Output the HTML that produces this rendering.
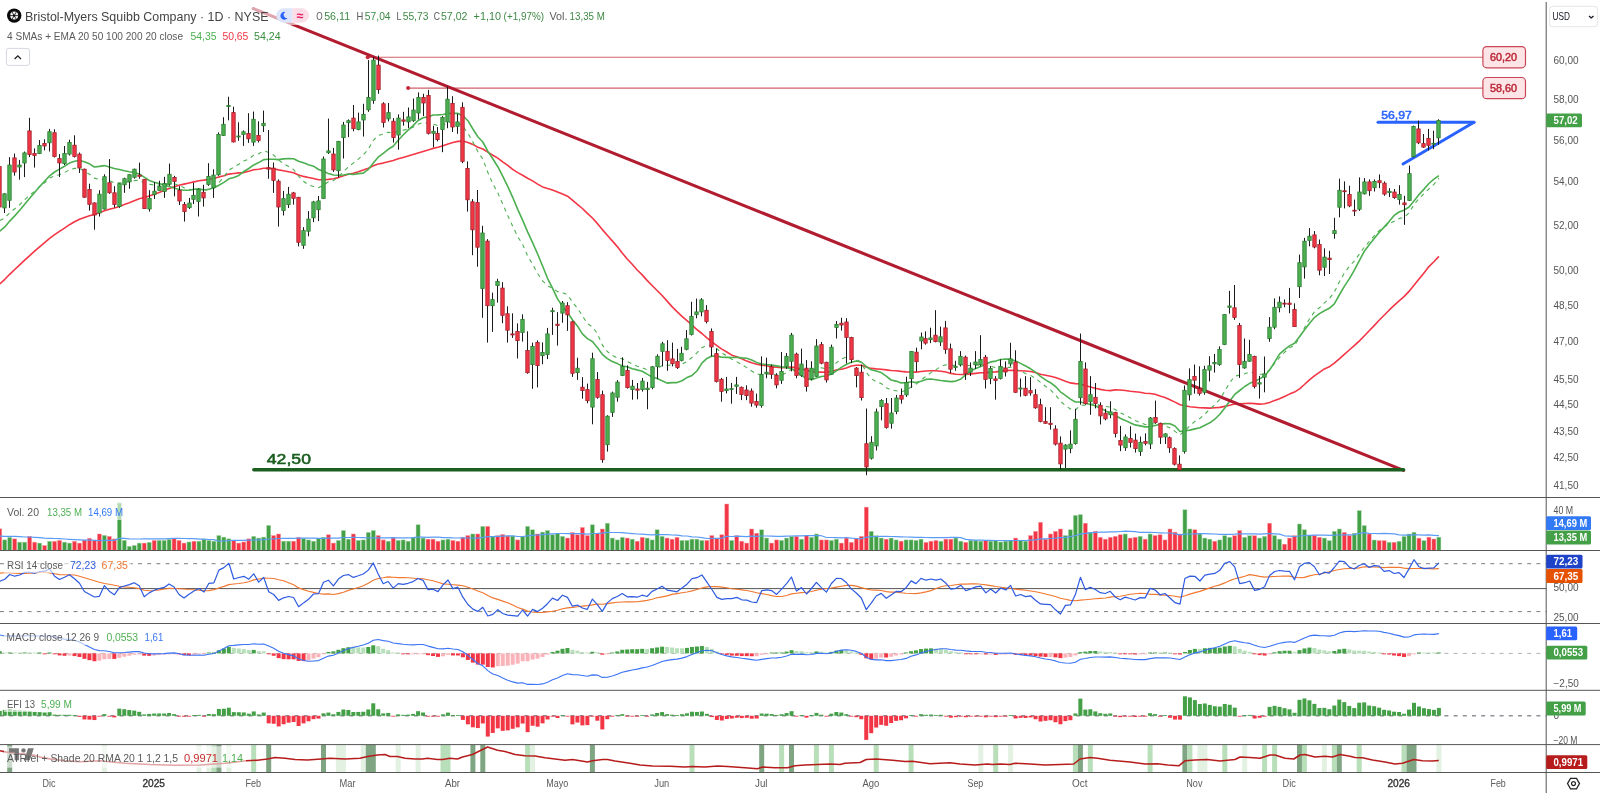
<!DOCTYPE html><html><head><meta charset="utf-8"><title>BMY chart</title><style>html,body{margin:0;padding:0;background:#fff}svg{display:block;will-change:transform;transform:translateZ(0)}</style></head><body><svg width="1600" height="793" viewBox="0 0 1600 793" font-family="'Liberation Sans', sans-serif">
<rect width="1600" height="793" fill="#fff"/>
<g fill="#43a047" stroke="#a5d6a7" stroke-width="0.5"><rect x="2.77" y="539.90" width="4" height="10.50"/><rect x="7.75" y="537.28" width="4" height="13.12"/><rect x="17.71" y="542.15" width="4" height="8.25"/><rect x="22.69" y="542.15" width="4" height="8.25"/><rect x="37.63" y="543.09" width="4" height="7.31"/><rect x="47.59" y="541.31" width="4" height="9.09"/><rect x="62.52" y="542.15" width="4" height="8.25"/><rect x="67.50" y="543.09" width="4" height="7.31"/><rect x="102.36" y="535.40" width="4" height="15.00"/><rect x="117.30" y="503.06" width="4" height="47.34"/><rect x="122.28" y="540.37" width="4" height="10.03"/><rect x="127.26" y="546.37" width="4" height="4.03"/><rect x="132.24" y="545.43" width="4" height="4.97"/><rect x="137.22" y="543.09" width="4" height="7.31"/><rect x="147.18" y="542.28" width="4" height="8.12"/><rect x="157.14" y="540.40" width="4" height="10.00"/><rect x="162.12" y="540.40" width="4" height="10.00"/><rect x="167.10" y="539.46" width="4" height="10.94"/><rect x="187.01" y="541.96" width="4" height="8.44"/><rect x="196.97" y="541.18" width="4" height="9.22"/><rect x="201.95" y="539.15" width="4" height="11.25"/><rect x="206.93" y="540.40" width="4" height="10.00"/><rect x="211.91" y="541.18" width="4" height="9.22"/><rect x="216.89" y="535.56" width="4" height="14.84"/><rect x="221.87" y="537.12" width="4" height="13.28"/><rect x="226.85" y="538.84" width="4" height="11.56"/><rect x="251.75" y="536.34" width="4" height="14.06"/><rect x="256.73" y="538.06" width="4" height="12.34"/><rect x="261.71" y="537.12" width="4" height="13.28"/><rect x="266.69" y="525.40" width="4" height="25.00"/><rect x="281.63" y="541.18" width="4" height="9.22"/><rect x="286.61" y="541.18" width="4" height="9.22"/><rect x="301.55" y="538.37" width="4" height="12.03"/><rect x="306.53" y="539.93" width="4" height="10.47"/><rect x="311.50" y="541.18" width="4" height="9.22"/><rect x="316.48" y="538.37" width="4" height="12.03"/><rect x="321.46" y="537.28" width="4" height="13.12"/><rect x="336.40" y="540.40" width="4" height="10.00"/><rect x="341.38" y="530.56" width="4" height="19.84"/><rect x="346.36" y="539.15" width="4" height="11.25"/><rect x="356.32" y="540.40" width="4" height="10.00"/><rect x="361.30" y="539.93" width="4" height="10.47"/><rect x="366.28" y="532.43" width="4" height="17.97"/><rect x="371.26" y="530.56" width="4" height="19.84"/><rect x="386.20" y="541.18" width="4" height="9.22"/><rect x="396.16" y="540.40" width="4" height="10.00"/><rect x="401.14" y="539.93" width="4" height="10.47"/><rect x="406.12" y="541.18" width="4" height="9.22"/><rect x="411.10" y="537.59" width="4" height="12.81"/><rect x="416.08" y="524.78" width="4" height="25.62"/><rect x="421.06" y="538.06" width="4" height="12.34"/><rect x="440.97" y="539.93" width="4" height="10.47"/><rect x="445.95" y="539.15" width="4" height="11.25"/><rect x="470.85" y="533.99" width="4" height="16.41"/><rect x="480.81" y="526.34" width="4" height="24.06"/><rect x="490.77" y="536.81" width="4" height="13.59"/><rect x="510.69" y="536.02" width="4" height="14.38"/><rect x="520.65" y="536.81" width="4" height="13.59"/><rect x="525.63" y="526.34" width="4" height="24.06"/><rect x="530.61" y="529.78" width="4" height="20.62"/><rect x="540.57" y="532.12" width="4" height="18.28"/><rect x="545.55" y="530.56" width="4" height="19.84"/><rect x="550.53" y="534.78" width="4" height="15.62"/><rect x="555.51" y="533.68" width="4" height="16.72"/><rect x="560.48" y="536.34" width="4" height="14.06"/><rect x="590.36" y="524.78" width="4" height="25.62"/><rect x="605.30" y="523.21" width="4" height="27.19"/><rect x="610.28" y="538.06" width="4" height="12.34"/><rect x="615.26" y="539.93" width="4" height="10.47"/><rect x="620.24" y="537.28" width="4" height="13.12"/><rect x="630.20" y="539.15" width="4" height="11.25"/><rect x="645.14" y="538.06" width="4" height="12.34"/><rect x="650.12" y="539.93" width="4" height="10.47"/><rect x="655.10" y="529.78" width="4" height="20.62"/><rect x="660.08" y="536.34" width="4" height="14.06"/><rect x="680.00" y="540.40" width="4" height="10.00"/><rect x="684.97" y="540.40" width="4" height="10.00"/><rect x="689.95" y="539.15" width="4" height="11.25"/><rect x="694.93" y="539.15" width="4" height="11.25"/><rect x="699.91" y="540.40" width="4" height="10.00"/><rect x="729.79" y="540.40" width="4" height="10.00"/><rect x="759.67" y="529.78" width="4" height="20.62"/><rect x="764.65" y="538.06" width="4" height="12.34"/><rect x="779.59" y="540.40" width="4" height="10.00"/><rect x="784.57" y="538.06" width="4" height="12.34"/><rect x="789.55" y="536.34" width="4" height="14.06"/><rect x="799.51" y="539.15" width="4" height="11.25"/><rect x="809.46" y="537.28" width="4" height="13.12"/><rect x="814.44" y="533.99" width="4" height="16.41"/><rect x="829.38" y="540.40" width="4" height="10.00"/><rect x="834.36" y="539.15" width="4" height="11.25"/><rect x="869.22" y="531.34" width="4" height="19.06"/><rect x="874.20" y="535.71" width="4" height="14.69"/><rect x="879.18" y="538.06" width="4" height="12.34"/><rect x="889.14" y="538.06" width="4" height="12.34"/><rect x="894.12" y="539.93" width="4" height="10.47"/><rect x="904.08" y="539.93" width="4" height="10.47"/><rect x="909.06" y="539.93" width="4" height="10.47"/><rect x="914.04" y="540.40" width="4" height="10.00"/><rect x="919.02" y="539.15" width="4" height="11.25"/><rect x="938.93" y="541.18" width="4" height="9.22"/><rect x="953.87" y="538.06" width="4" height="12.34"/><rect x="958.85" y="541.18" width="4" height="9.22"/><rect x="968.81" y="540.40" width="4" height="10.00"/><rect x="973.79" y="540.40" width="4" height="10.00"/><rect x="978.77" y="541.18" width="4" height="9.22"/><rect x="988.73" y="541.18" width="4" height="9.22"/><rect x="993.71" y="540.40" width="4" height="10.00"/><rect x="998.69" y="541.96" width="4" height="8.44"/><rect x="1003.67" y="541.18" width="4" height="9.22"/><rect x="1008.65" y="540.40" width="4" height="10.00"/><rect x="1018.61" y="540.40" width="4" height="10.00"/><rect x="1023.59" y="541.18" width="4" height="9.22"/><rect x="1063.42" y="535.56" width="4" height="14.84"/><rect x="1068.40" y="529.78" width="4" height="20.62"/><rect x="1073.38" y="515.40" width="4" height="35.00"/><rect x="1078.36" y="514.62" width="4" height="35.78"/><rect x="1088.32" y="532.43" width="4" height="17.97"/><rect x="1123.18" y="533.99" width="4" height="16.41"/><rect x="1138.12" y="536.34" width="4" height="14.06"/><rect x="1148.08" y="533.99" width="4" height="16.41"/><rect x="1182.93" y="509.78" width="4" height="40.62"/><rect x="1187.91" y="528.99" width="4" height="21.41"/><rect x="1197.87" y="533.99" width="4" height="16.41"/><rect x="1202.85" y="538.06" width="4" height="12.34"/><rect x="1207.83" y="539.15" width="4" height="11.25"/><rect x="1217.79" y="539.93" width="4" height="10.47"/><rect x="1222.77" y="535.71" width="4" height="14.69"/><rect x="1227.75" y="537.28" width="4" height="13.12"/><rect x="1242.69" y="537.28" width="4" height="13.12"/><rect x="1247.67" y="535.71" width="4" height="14.69"/><rect x="1257.63" y="538.06" width="4" height="12.34"/><rect x="1262.61" y="536.34" width="4" height="14.06"/><rect x="1272.57" y="535.71" width="4" height="14.69"/><rect x="1277.55" y="539.15" width="4" height="11.25"/><rect x="1297.47" y="523.99" width="4" height="26.41"/><rect x="1302.45" y="529.78" width="4" height="20.62"/><rect x="1307.42" y="535.56" width="4" height="14.84"/><rect x="1322.36" y="538.06" width="4" height="12.34"/><rect x="1327.34" y="540.71" width="4" height="9.69"/><rect x="1332.32" y="531.34" width="4" height="19.06"/><rect x="1337.30" y="528.99" width="4" height="21.41"/><rect x="1352.24" y="533.21" width="4" height="17.19"/><rect x="1357.22" y="510.65" width="4" height="39.75"/><rect x="1362.20" y="525.65" width="4" height="24.75"/><rect x="1372.16" y="540.02" width="4" height="10.38"/><rect x="1387.10" y="542.28" width="4" height="8.12"/><rect x="1397.06" y="541.28" width="4" height="9.12"/><rect x="1402.04" y="536.52" width="4" height="13.88"/><rect x="1407.02" y="534.02" width="4" height="16.38"/><rect x="1412.00" y="532.28" width="4" height="18.12"/><rect x="1421.96" y="540.65" width="4" height="9.75"/><rect x="1436.89" y="537.15" width="4" height="13.25"/></g>
<g fill="#f23645" stroke="#f7a1a8" stroke-width="0.5"><rect x="-2.21" y="528.84" width="4" height="21.56"/><rect x="12.73" y="538.87" width="4" height="11.53"/><rect x="27.67" y="536.34" width="4" height="14.06"/><rect x="32.65" y="542.15" width="4" height="8.25"/><rect x="42.61" y="545.43" width="4" height="4.97"/><rect x="52.57" y="541.31" width="4" height="9.09"/><rect x="57.55" y="540.37" width="4" height="10.03"/><rect x="72.48" y="541.31" width="4" height="9.09"/><rect x="77.46" y="543.09" width="4" height="7.31"/><rect x="82.44" y="540.09" width="4" height="10.31"/><rect x="87.42" y="538.21" width="4" height="12.19"/><rect x="92.40" y="540.09" width="4" height="10.31"/><rect x="97.38" y="533.99" width="4" height="16.41"/><rect x="107.34" y="536.34" width="4" height="14.06"/><rect x="112.32" y="538.96" width="4" height="11.44"/><rect x="142.20" y="543.09" width="4" height="7.31"/><rect x="152.16" y="540.40" width="4" height="10.00"/><rect x="172.08" y="538.37" width="4" height="12.03"/><rect x="177.06" y="540.40" width="4" height="10.00"/><rect x="182.04" y="543.06" width="4" height="7.34"/><rect x="191.99" y="541.18" width="4" height="9.22"/><rect x="231.83" y="540.71" width="4" height="9.69"/><rect x="236.81" y="543.06" width="4" height="7.34"/><rect x="241.79" y="541.96" width="4" height="8.44"/><rect x="246.77" y="538.84" width="4" height="11.56"/><rect x="271.67" y="535.56" width="4" height="14.84"/><rect x="276.65" y="533.99" width="4" height="16.41"/><rect x="291.59" y="541.18" width="4" height="9.22"/><rect x="296.57" y="537.28" width="4" height="13.12"/><rect x="326.44" y="534.78" width="4" height="15.62"/><rect x="331.42" y="543.06" width="4" height="7.34"/><rect x="351.34" y="533.99" width="4" height="16.41"/><rect x="376.24" y="535.56" width="4" height="14.84"/><rect x="381.22" y="539.93" width="4" height="10.47"/><rect x="391.18" y="538.06" width="4" height="12.34"/><rect x="426.04" y="539.15" width="4" height="11.25"/><rect x="431.02" y="539.15" width="4" height="11.25"/><rect x="435.99" y="541.18" width="4" height="9.22"/><rect x="450.93" y="540.40" width="4" height="10.00"/><rect x="455.91" y="541.18" width="4" height="9.22"/><rect x="460.89" y="537.59" width="4" height="12.81"/><rect x="465.87" y="535.56" width="4" height="14.84"/><rect x="475.83" y="533.99" width="4" height="16.41"/><rect x="485.79" y="526.34" width="4" height="24.06"/><rect x="495.75" y="535.71" width="4" height="14.69"/><rect x="500.73" y="534.46" width="4" height="15.94"/><rect x="505.71" y="536.02" width="4" height="14.38"/><rect x="515.67" y="539.93" width="4" height="10.47"/><rect x="535.59" y="533.99" width="4" height="16.41"/><rect x="565.46" y="538.06" width="4" height="12.34"/><rect x="570.44" y="532.43" width="4" height="17.97"/><rect x="575.42" y="534.78" width="4" height="15.62"/><rect x="580.40" y="527.43" width="4" height="22.97"/><rect x="585.38" y="535.56" width="4" height="14.84"/><rect x="595.34" y="533.37" width="4" height="17.03"/><rect x="600.32" y="528.99" width="4" height="21.41"/><rect x="625.22" y="538.06" width="4" height="12.34"/><rect x="635.18" y="541.18" width="4" height="9.22"/><rect x="640.16" y="537.28" width="4" height="13.12"/><rect x="665.06" y="538.06" width="4" height="12.34"/><rect x="670.04" y="539.15" width="4" height="11.25"/><rect x="675.02" y="537.28" width="4" height="13.12"/><rect x="704.89" y="540.40" width="4" height="10.00"/><rect x="709.87" y="535.56" width="4" height="14.84"/><rect x="714.85" y="538.37" width="4" height="12.03"/><rect x="719.83" y="534.78" width="4" height="15.62"/><rect x="724.81" y="503.99" width="4" height="46.41"/><rect x="734.77" y="535.71" width="4" height="14.69"/><rect x="739.75" y="541.18" width="4" height="9.22"/><rect x="744.73" y="543.06" width="4" height="7.34"/><rect x="749.71" y="528.99" width="4" height="21.41"/><rect x="754.69" y="533.21" width="4" height="17.19"/><rect x="769.63" y="543.06" width="4" height="7.34"/><rect x="774.61" y="539.93" width="4" height="10.47"/><rect x="794.53" y="536.34" width="4" height="14.06"/><rect x="804.49" y="535.71" width="4" height="14.69"/><rect x="819.42" y="539.93" width="4" height="10.47"/><rect x="824.40" y="539.93" width="4" height="10.47"/><rect x="839.34" y="543.06" width="4" height="7.34"/><rect x="844.32" y="538.06" width="4" height="12.34"/><rect x="849.30" y="542.28" width="4" height="8.12"/><rect x="854.28" y="538.84" width="4" height="11.56"/><rect x="859.26" y="536.34" width="4" height="14.06"/><rect x="864.24" y="507.12" width="4" height="43.28"/><rect x="884.16" y="539.15" width="4" height="11.25"/><rect x="899.10" y="541.18" width="4" height="9.22"/><rect x="924.00" y="542.28" width="4" height="8.12"/><rect x="928.98" y="541.18" width="4" height="9.22"/><rect x="933.95" y="540.40" width="4" height="10.00"/><rect x="943.91" y="539.15" width="4" height="11.25"/><rect x="948.89" y="539.15" width="4" height="11.25"/><rect x="963.83" y="542.28" width="4" height="8.12"/><rect x="983.75" y="540.40" width="4" height="10.00"/><rect x="1013.63" y="538.06" width="4" height="12.34"/><rect x="1028.57" y="535.56" width="4" height="14.84"/><rect x="1033.55" y="531.34" width="4" height="19.06"/><rect x="1038.53" y="522.28" width="4" height="28.12"/><rect x="1043.51" y="539.15" width="4" height="11.25"/><rect x="1048.49" y="533.99" width="4" height="16.41"/><rect x="1053.47" y="531.34" width="4" height="19.06"/><rect x="1058.44" y="528.99" width="4" height="21.41"/><rect x="1083.34" y="523.21" width="4" height="27.19"/><rect x="1093.30" y="531.34" width="4" height="19.06"/><rect x="1098.28" y="537.28" width="4" height="13.12"/><rect x="1103.26" y="539.15" width="4" height="11.25"/><rect x="1108.24" y="537.28" width="4" height="13.12"/><rect x="1113.22" y="536.34" width="4" height="14.06"/><rect x="1118.20" y="534.78" width="4" height="15.62"/><rect x="1128.16" y="538.06" width="4" height="12.34"/><rect x="1133.14" y="537.28" width="4" height="13.12"/><rect x="1143.10" y="539.15" width="4" height="11.25"/><rect x="1153.06" y="535.56" width="4" height="14.84"/><rect x="1158.04" y="534.78" width="4" height="15.62"/><rect x="1163.02" y="539.93" width="4" height="10.47"/><rect x="1168.00" y="528.99" width="4" height="21.41"/><rect x="1172.98" y="532.12" width="4" height="18.28"/><rect x="1177.96" y="533.99" width="4" height="16.41"/><rect x="1192.89" y="529.78" width="4" height="20.62"/><rect x="1212.81" y="541.18" width="4" height="9.22"/><rect x="1232.73" y="535.71" width="4" height="14.69"/><rect x="1237.71" y="530.56" width="4" height="19.84"/><rect x="1252.65" y="535.71" width="4" height="14.69"/><rect x="1267.59" y="523.21" width="4" height="27.19"/><rect x="1282.53" y="544.15" width="4" height="6.25"/><rect x="1287.51" y="538.06" width="4" height="12.34"/><rect x="1292.49" y="535.71" width="4" height="14.69"/><rect x="1312.40" y="535.56" width="4" height="14.84"/><rect x="1317.38" y="537.28" width="4" height="13.12"/><rect x="1342.28" y="532.43" width="4" height="17.97"/><rect x="1347.26" y="535.56" width="4" height="14.84"/><rect x="1367.18" y="534.02" width="4" height="16.38"/><rect x="1377.14" y="540.65" width="4" height="9.75"/><rect x="1382.12" y="540.65" width="4" height="9.75"/><rect x="1392.08" y="542.28" width="4" height="8.12"/><rect x="1416.98" y="538.15" width="4" height="12.25"/><rect x="1426.94" y="537.15" width="4" height="13.25"/><rect x="1431.91" y="539.02" width="4" height="11.38"/></g>
<polyline points="-0.2,536.1 4.8,536.3 9.7,536.3 14.7,536.4 19.7,536.7 24.7,537.0 29.7,537.0 34.6,537.3 39.6,537.6 44.6,538.1 49.6,538.3 54.6,538.5 59.5,538.7 64.5,539.0 69.5,539.3 74.5,539.6 79.5,539.9 84.4,540.1 89.4,540.2 94.4,540.4 99.4,540.6 104.4,540.4 109.3,540.3 114.3,540.4 119.3,538.4 124.3,538.3 129.3,538.8 134.2,539.0 139.2,539.0 144.2,538.9 149.2,538.9 154.2,538.9 159.1,538.9 164.1,538.8 169.1,538.6 174.1,538.4 179.1,538.3 184.0,538.5 189.0,538.6 194.0,538.7 199.0,539.1 204.0,539.2 208.9,539.5 213.9,539.6 218.9,541.2 223.9,541.0 228.9,540.6 233.8,540.4 238.8,540.4 243.8,540.4 248.8,540.2 253.7,540.0 258.7,539.9 263.7,539.7 268.7,539.0 273.7,538.9 278.6,538.5 283.6,538.4 288.6,538.4 293.6,538.4 298.6,538.2 303.5,538.2 308.5,538.1 313.5,538.1 318.5,538.3 323.5,538.3 328.4,538.1 333.4,538.2 338.4,538.1 343.4,537.5 348.4,537.5 353.3,537.4 358.3,537.5 363.3,537.7 368.3,538.0 373.3,537.8 378.2,537.8 383.2,537.8 388.2,537.8 393.2,537.6 398.2,537.8 403.1,537.9 408.1,537.9 413.1,537.7 418.1,537.1 423.1,537.1 428.0,537.3 433.0,537.1 438.0,537.2 443.0,537.6 448.0,537.6 452.9,537.9 457.9,538.0 462.9,537.9 467.9,538.0 472.9,538.2 477.8,538.1 482.8,537.4 487.8,536.7 492.8,536.6 497.8,536.4 502.7,536.1 507.7,535.9 512.7,535.8 517.7,536.5 522.6,536.5 527.6,535.8 532.6,535.4 537.6,535.0 542.6,534.6 547.5,534.2 552.5,533.9 557.5,533.5 562.5,533.5 567.5,533.6 572.4,533.5 577.4,533.6 582.4,533.6 587.4,534.1 592.4,533.5 597.3,533.4 602.3,533.1 607.3,532.4 612.3,532.5 617.3,532.5 622.2,532.6 627.2,533.2 632.2,533.6 637.2,534.0 642.2,534.2 647.1,534.6 652.1,534.9 657.1,534.7 662.1,534.7 667.1,534.7 672.0,535.0 677.0,535.1 682.0,535.8 687.0,536.0 692.0,536.8 696.9,537.0 701.9,537.6 706.9,538.5 711.9,538.3 716.9,538.3 721.8,538.1 726.8,536.4 731.8,536.5 736.8,536.2 741.8,536.4 746.7,536.7 751.7,536.1 756.7,536.3 761.7,536.0 766.6,536.0 771.6,536.2 776.6,536.3 781.6,536.3 786.6,536.2 791.5,536.0 796.5,535.9 801.5,535.8 806.5,535.6 811.5,535.7 816.4,535.5 821.4,535.7 826.4,537.5 831.4,537.5 836.4,537.7 841.3,537.8 846.3,537.5 851.3,538.2 856.3,538.5 861.3,538.8 866.2,537.3 871.2,536.7 876.2,536.5 881.2,536.4 886.2,536.4 891.1,536.5 896.1,536.7 901.1,536.8 906.1,537.0 911.1,537.1 916.0,537.4 921.0,537.4 926.0,537.5 931.0,537.6 936.0,537.6 940.9,537.5 945.9,537.6 950.9,537.4 955.9,537.4 960.9,537.6 965.8,539.4 970.8,539.8 975.8,540.1 980.8,540.2 985.8,540.3 990.7,540.4 995.7,540.5 1000.7,540.5 1005.7,540.6 1010.6,540.6 1015.6,540.5 1020.6,540.5 1025.6,540.5 1030.6,540.2 1035.5,539.8 1040.5,538.8 1045.5,538.8 1050.5,538.5 1055.5,538.2 1060.4,537.6 1065.4,537.3 1070.4,536.7 1075.4,535.5 1080.4,534.2 1085.3,533.3 1090.3,532.9 1095.3,532.4 1100.3,532.2 1105.3,532.1 1110.2,531.9 1115.2,531.8 1120.2,531.5 1125.2,531.2 1130.2,531.3 1135.1,531.6 1140.1,532.3 1145.1,532.3 1150.1,532.3 1155.1,532.5 1160.0,532.8 1165.0,533.0 1170.0,533.0 1175.0,533.8 1180.0,534.8 1184.9,534.1 1189.9,534.0 1194.9,533.9 1199.9,533.7 1204.9,533.7 1209.8,533.8 1214.8,534.0 1219.8,534.3 1224.8,534.3 1229.8,534.3 1234.7,534.2 1239.7,533.9 1244.7,533.8 1249.7,533.9 1254.6,533.9 1259.6,534.1 1264.6,533.9 1269.6,533.6 1274.6,533.8 1279.5,534.1 1284.5,535.8 1289.5,536.2 1294.5,536.5 1299.5,536.0 1304.4,535.6 1309.4,535.4 1314.4,535.2 1319.4,535.0 1324.4,535.1 1329.3,535.3 1334.3,535.1 1339.3,535.0 1344.3,534.8 1349.3,534.8 1354.2,534.6 1359.2,533.3 1364.2,532.7 1369.2,533.3 1374.2,533.5 1379.1,533.6 1384.1,533.4 1389.1,533.6 1394.1,533.9 1399.1,534.8 1404.0,535.1 1409.0,535.1 1414.0,534.9 1419.0,534.9 1424.0,535.1 1428.9,534.9 1433.9,535.3 1438.9,535.7" fill="none" stroke="#5b9cf6" stroke-width="1.2" stroke-linejoin="round" />
<g stroke="#d0606a" stroke-width="1.1"><line x1="368" y1="57.2" x2="1483" y2="57.2"/><line x1="408" y1="88.1" x2="1483" y2="88.1"/></g>
<circle cx="367.7" cy="57.2" r="2" fill="#c62839"/><circle cx="408.1" cy="88.1" r="2" fill="#c62839"/>
<polyline points="-0.2,283.9 4.8,279.3 9.7,274.3 14.7,269.5 19.7,264.9 24.7,260.1 29.7,255.6 34.6,251.2 39.6,246.8 44.6,242.6 49.6,238.3 54.6,234.7 59.5,231.4 64.5,228.1 69.5,224.7 74.5,221.8 79.5,219.3 84.4,217.4 89.4,215.8 94.4,214.5 99.4,212.8 104.4,210.8 109.3,209.3 114.3,208.0 119.3,206.4 124.3,204.6 129.3,202.7 134.2,200.7 139.2,198.8 144.2,197.5 149.2,195.9 154.2,194.2 159.1,192.4 164.1,190.6 169.1,188.6 174.1,186.7 179.1,185.3 184.0,184.1 189.0,183.0 194.0,181.9 199.0,180.8 204.0,180.1 208.9,179.2 213.9,178.5 218.9,177.1 223.9,175.7 228.9,174.1 233.8,173.5 238.8,172.9 243.8,172.6 248.8,171.2 253.7,169.7 258.7,169.2 263.7,168.2 268.7,168.3 273.7,168.8 278.6,169.9 283.6,170.7 288.6,171.7 293.6,172.8 298.6,175.0 303.5,176.4 308.5,177.5 313.5,178.5 318.5,179.7 323.5,179.7 328.4,179.4 333.4,178.8 338.4,177.6 343.4,175.8 348.4,174.3 353.3,173.3 358.3,171.8 363.3,170.0 368.3,168.3 373.3,165.8 378.2,164.0 383.2,163.1 388.2,161.8 393.2,160.4 398.2,158.8 403.1,157.4 408.1,156.0 413.1,154.5 418.1,152.9 423.1,151.4 428.0,150.0 433.0,148.4 438.0,147.2 443.0,145.7 448.0,143.9 452.9,142.5 457.9,141.4 462.9,141.1 467.9,142.4 472.9,144.4 477.8,147.2 482.8,149.0 487.8,152.2 492.8,155.3 497.8,158.1 502.7,161.8 507.7,165.4 512.7,169.4 517.7,172.6 522.6,175.2 527.6,178.2 532.6,180.9 537.6,184.1 542.6,186.9 547.5,188.6 552.5,190.1 557.5,192.1 562.5,194.0 567.5,196.2 572.4,200.2 577.4,204.3 582.4,208.5 587.4,213.4 592.4,218.0 597.3,223.4 602.3,229.6 607.3,235.3 612.3,240.9 617.3,246.6 622.2,252.9 627.2,259.0 632.2,264.3 637.2,270.0 642.2,274.9 647.1,280.4 652.1,285.5 657.1,290.5 662.1,295.5 667.1,301.1 672.0,306.6 677.0,311.6 682.0,316.3 687.0,320.6 692.0,325.0 696.9,329.7 701.9,333.5 706.9,337.9 711.9,341.9 716.9,345.7 721.8,349.1 726.8,352.0 731.8,355.2 736.8,356.8 741.8,358.8 746.7,361.1 751.7,362.8 756.7,364.3 761.7,365.1 766.6,365.8 771.6,366.9 776.6,367.1 781.6,367.6 786.6,367.4 791.5,367.1 796.5,367.9 801.5,369.0 806.5,370.3 811.5,371.6 816.4,372.2 821.4,372.0 826.4,372.3 831.4,371.4 836.4,369.9 841.3,369.2 846.3,368.0 851.3,366.0 856.3,365.3 861.3,365.3 866.2,367.0 871.2,368.4 876.2,368.9 881.2,369.2 886.2,369.9 891.1,370.5 896.1,370.7 901.1,371.4 906.1,371.9 911.1,372.0 916.0,372.1 921.0,371.5 926.0,371.0 931.0,370.7 936.0,370.8 940.9,371.2 945.9,372.0 950.9,373.4 955.9,374.3 960.9,374.5 965.8,374.4 970.8,373.9 975.8,373.4 980.8,372.8 985.8,372.7 990.7,372.2 995.7,371.9 1000.7,371.1 1005.7,370.5 1010.6,370.2 1015.6,370.6 1020.6,370.8 1025.6,371.0 1030.6,371.5 1035.5,372.5 1040.5,374.2 1045.5,375.2 1050.5,376.3 1055.5,377.5 1060.4,379.3 1065.4,381.3 1070.4,382.9 1075.4,383.6 1080.4,383.9 1085.3,385.5 1090.3,387.0 1095.3,388.3 1100.3,389.4 1105.3,390.3 1110.2,390.6 1115.2,389.9 1120.2,390.0 1125.2,390.5 1130.2,391.3 1135.1,391.7 1140.1,392.3 1145.1,393.2 1150.1,393.5 1155.1,394.3 1160.0,396.0 1165.0,397.5 1170.0,399.7 1175.0,402.1 1180.0,404.8 1184.9,405.8 1189.9,406.7 1194.9,407.3 1199.9,407.8 1204.9,407.9 1209.8,408.1 1214.8,407.8 1219.8,407.4 1224.8,406.4 1229.8,405.3 1234.7,404.0 1239.7,403.9 1244.7,403.5 1249.7,403.3 1254.6,403.6 1259.6,404.1 1264.6,403.7 1269.6,402.4 1274.6,400.6 1279.5,398.7 1284.5,396.5 1289.5,394.1 1294.5,392.1 1299.5,388.8 1304.4,384.5 1309.4,379.9 1314.4,375.8 1319.4,372.3 1324.4,368.9 1329.3,366.8 1334.3,363.2 1339.3,358.8 1344.3,354.4 1349.3,350.0 1354.2,345.7 1359.2,341.1 1364.2,336.0 1369.2,330.8 1374.2,325.6 1379.1,320.3 1384.1,315.3 1389.1,310.2 1394.1,305.4 1399.1,300.9 1404.0,296.6 1409.0,291.4 1414.0,285.2 1419.0,279.1 1424.0,272.9 1428.9,266.6 1433.9,261.7 1438.9,256.4" fill="none" stroke="#f23645" stroke-width="1.6" stroke-linejoin="round" />
<polyline points="-0.2,231.2 4.8,226.9 9.7,221.1 14.7,215.9 19.7,210.3 24.7,204.2 29.7,198.2 34.6,192.4 39.6,186.6 44.6,181.3 49.6,175.8 54.6,172.0 59.5,169.1 64.5,166.2 69.5,163.1 74.5,161.3 79.5,160.5 84.4,161.7 89.4,163.8 94.4,167.0 99.4,166.4 104.4,165.6 109.3,166.9 114.3,168.5 119.3,169.5 124.3,170.8 129.3,171.8 134.2,172.5 139.2,174.0 144.2,177.2 149.2,180.5 154.2,182.3 159.1,183.5 164.1,185.0 169.1,186.6 174.1,187.9 179.1,189.5 184.0,190.2 189.0,190.2 194.0,189.2 199.0,188.9 204.0,190.0 208.9,189.2 213.9,187.7 218.9,185.2 223.9,182.4 228.9,178.8 233.8,177.4 238.8,175.4 243.8,171.5 248.8,168.5 253.7,164.9 258.7,162.6 263.7,159.6 268.7,159.3 273.7,159.3 278.6,159.6 283.6,158.9 288.6,158.5 293.6,158.7 298.6,161.2 303.5,162.8 308.5,164.8 313.5,166.2 318.5,169.5 323.5,171.3 328.4,173.6 333.4,175.0 338.4,175.3 343.4,175.0 348.4,174.0 353.3,174.5 358.3,173.6 363.3,173.1 368.3,169.4 373.3,163.1 378.2,157.2 383.2,153.4 388.2,149.3 393.2,146.3 398.2,140.3 403.1,135.0 408.1,130.1 413.1,125.6 418.1,120.5 423.1,117.7 428.0,116.9 433.0,115.0 438.0,114.9 443.0,114.5 448.0,113.5 452.9,113.4 457.9,113.4 462.9,115.7 467.9,120.7 472.9,129.0 477.8,136.7 482.8,142.0 487.8,151.2 492.8,158.8 497.8,166.7 502.7,176.1 507.7,186.4 512.7,197.3 517.7,209.4 522.6,220.2 527.6,231.9 532.6,242.7 537.6,254.0 542.6,266.0 547.5,278.3 552.5,288.1 557.5,298.9 562.5,306.4 567.5,312.5 572.4,319.7 577.4,325.9 582.4,333.9 587.4,338.6 592.4,341.5 597.3,347.4 602.3,354.3 607.3,358.6 612.3,361.5 617.3,363.6 622.2,366.0 627.2,366.7 632.2,368.7 637.2,369.9 642.2,371.3 647.1,374.1 652.1,377.0 657.1,378.6 662.1,380.7 667.1,383.1 672.0,382.6 677.0,382.6 682.0,380.7 687.0,377.6 692.0,375.4 696.9,371.0 701.9,363.1 706.9,358.4 711.9,356.1 716.9,356.1 721.8,357.3 726.8,357.4 731.8,357.5 736.8,357.2 741.8,357.9 746.7,358.3 751.7,360.0 756.7,362.4 761.7,364.0 766.6,364.6 771.6,365.1 776.6,365.9 781.6,366.9 786.6,367.7 791.5,368.7 796.5,372.0 801.5,375.3 806.5,378.6 811.5,379.7 816.4,377.9 821.4,376.5 826.4,376.0 831.4,374.0 836.4,370.9 841.3,367.4 846.3,364.5 851.3,362.3 856.3,360.9 861.3,362.0 866.2,366.5 871.2,369.8 876.2,371.1 881.2,372.6 886.2,376.1 891.1,380.0 896.1,381.1 901.1,382.9 906.1,382.7 911.1,381.8 916.0,382.6 921.0,381.3 926.0,379.4 931.0,379.0 936.0,379.8 940.9,380.5 945.9,381.1 950.9,381.6 955.9,381.1 960.9,379.0 965.8,374.6 970.8,370.9 975.8,368.5 980.8,366.5 985.8,364.1 990.7,361.9 995.7,361.1 1000.7,359.5 1005.7,359.0 1010.6,359.3 1015.6,360.9 1020.6,363.4 1025.6,366.0 1030.6,368.8 1035.5,372.1 1040.5,376.3 1045.5,379.9 1050.5,382.7 1055.5,386.5 1060.4,391.8 1065.4,395.3 1070.4,399.1 1075.4,402.0 1080.4,402.0 1085.3,403.3 1090.3,404.6 1095.3,405.8 1100.3,408.3 1105.3,410.6 1110.2,413.3 1115.2,415.4 1120.2,418.3 1125.2,420.4 1130.2,422.8 1135.1,424.9 1140.1,425.9 1145.1,426.9 1150.1,426.6 1155.1,425.5 1160.0,424.2 1165.0,423.6 1170.0,423.8 1175.0,426.0 1180.0,431.5 1184.9,430.8 1189.9,430.1 1194.9,428.9 1199.9,427.7 1204.9,425.2 1209.8,422.8 1214.8,419.2 1219.8,414.3 1224.8,408.0 1229.8,401.0 1234.7,394.4 1239.7,390.5 1244.7,386.5 1249.7,383.3 1254.6,381.5 1259.6,378.9 1264.6,375.9 1269.6,370.0 1274.6,362.2 1279.5,354.1 1284.5,349.7 1289.5,345.9 1294.5,343.3 1299.5,336.7 1304.4,330.1 1309.4,323.4 1314.4,317.6 1319.4,313.6 1324.4,310.7 1329.3,308.3 1334.3,303.8 1339.3,295.0 1344.3,286.4 1349.3,278.9 1354.2,270.3 1359.2,260.9 1364.2,251.5 1369.2,244.7 1374.2,238.5 1379.1,232.5 1384.1,227.1 1389.1,221.6 1394.1,215.4 1399.1,212.0 1404.0,210.2 1409.0,207.0 1414.0,200.9 1419.0,194.6 1424.0,189.1 1428.9,183.5 1433.9,179.1 1438.9,175.6" fill="none" stroke="#4caf50" stroke-width="1.6" stroke-linejoin="round" />
<polyline points="-0.2,220.5 4.8,217.9 9.7,212.8 14.7,208.8 19.7,204.6 24.7,199.6 29.7,195.2 34.6,191.3 39.6,186.9 44.6,182.9 49.6,178.0 54.6,175.9 59.5,174.7 64.5,172.6 69.5,169.7 74.5,168.4 79.5,168.4 84.4,171.1 89.4,174.2 94.4,178.1 99.4,179.6 104.4,179.3 109.3,180.6 114.3,182.8 119.3,182.9 124.3,182.5 129.3,181.8 134.2,180.6 139.2,180.2 144.2,182.8 149.2,184.3 154.2,185.0 159.1,185.1 164.1,184.9 169.1,183.9 174.1,183.7 179.1,185.3 184.0,187.8 189.0,189.2 194.0,189.8 199.0,189.7 204.0,190.5 208.9,189.2 213.9,187.8 218.9,182.6 223.9,176.9 228.9,170.0 233.8,167.2 238.8,164.2 243.8,161.1 248.8,159.0 253.7,155.1 258.7,153.7 263.7,150.8 268.7,152.5 273.7,155.1 278.6,160.0 283.6,163.6 288.6,166.5 293.6,169.5 298.6,176.2 303.5,181.3 308.5,184.9 313.5,186.5 318.5,187.8 323.5,185.1 328.4,181.8 333.4,180.6 338.4,176.8 343.4,171.8 348.4,166.8 353.3,163.1 358.3,159.1 363.3,154.8 368.3,149.2 373.3,140.4 378.2,135.5 383.2,134.2 388.2,132.2 393.2,132.7 398.2,131.3 403.1,130.3 408.1,129.0 413.1,127.2 418.1,124.3 423.1,122.3 428.0,123.3 433.0,124.1 438.0,125.6 443.0,124.8 448.0,122.3 452.9,122.8 457.9,122.7 462.9,126.3 467.9,133.1 472.9,142.0 477.8,151.6 482.8,159.1 487.8,172.3 492.8,183.8 497.8,192.8 502.7,203.9 507.7,215.4 512.7,226.2 517.7,236.6 522.6,244.3 527.6,255.9 532.6,264.2 537.6,273.5 542.6,280.8 547.5,285.7 552.5,288.1 557.5,291.6 562.5,292.7 567.5,294.8 572.4,302.0 577.4,308.2 582.4,315.8 587.4,323.6 592.4,326.9 597.3,333.4 602.3,344.9 607.3,351.5 612.3,355.4 617.3,357.9 622.2,358.7 627.2,361.4 632.2,363.8 637.2,366.2 642.2,367.7 647.1,369.6 652.1,369.3 657.1,368.1 662.1,365.8 667.1,365.2 672.0,365.1 677.0,365.3 682.0,364.2 687.0,361.7 692.0,357.3 696.9,352.9 701.9,347.7 706.9,345.2 711.9,345.4 716.9,348.8 721.8,352.8 726.8,356.2 731.8,359.2 736.8,361.6 741.8,364.7 746.7,367.6 751.7,371.0 756.7,374.2 761.7,374.2 766.6,374.0 771.6,374.0 776.6,375.1 781.6,374.7 786.6,372.9 791.5,369.3 796.5,369.9 801.5,369.3 806.5,370.9 811.5,370.7 816.4,368.3 821.4,367.8 826.4,368.9 831.4,366.9 836.4,362.7 841.3,359.1 846.3,357.0 851.3,357.3 856.3,359.0 861.3,362.6 866.2,372.1 871.2,378.6 876.2,381.8 881.2,383.5 886.2,387.7 891.1,390.1 896.1,390.8 901.1,391.6 906.1,390.7 911.1,386.9 916.0,384.5 921.0,379.9 926.0,376.3 931.0,372.6 936.0,369.6 940.9,366.5 945.9,364.8 950.9,365.3 955.9,365.4 960.9,364.5 965.8,365.4 970.8,365.6 975.8,365.3 980.8,364.7 985.8,366.1 990.7,366.3 995.7,367.7 1000.7,367.6 1005.7,368.0 1010.6,367.1 1015.6,369.5 1020.6,371.2 1025.6,373.5 1030.6,375.4 1035.5,378.4 1040.5,382.4 1045.5,386.3 1050.5,389.9 1055.5,394.9 1060.4,401.3 1065.4,405.4 1070.4,409.0 1075.4,410.0 1080.4,405.3 1085.3,405.1 1090.3,404.1 1095.3,404.1 1100.3,405.2 1105.3,406.5 1110.2,407.0 1115.2,409.5 1120.2,412.8 1125.2,415.1 1130.2,417.7 1135.1,420.6 1140.1,422.6 1145.1,424.6 1150.1,424.0 1155.1,423.8 1160.0,425.1 1165.0,425.9 1170.0,428.0 1175.0,431.4 1180.0,435.0 1184.9,430.7 1189.9,425.7 1194.9,421.3 1199.9,418.6 1204.9,413.9 1209.8,409.2 1214.8,404.7 1219.8,399.3 1224.8,391.0 1229.8,382.6 1234.7,376.2 1239.7,375.1 1244.7,373.8 1249.7,371.9 1254.6,373.3 1259.6,374.2 1264.6,374.2 1269.6,369.6 1274.6,363.5 1279.5,357.5 1284.5,352.3 1289.5,347.7 1294.5,345.6 1299.5,337.5 1304.4,328.0 1309.4,318.9 1314.4,311.9 1319.4,307.8 1324.4,302.9 1329.3,298.7 1334.3,292.1 1339.3,282.0 1344.3,273.0 1349.3,266.5 1354.2,261.1 1359.2,254.3 1364.2,247.2 1369.2,241.7 1374.2,235.8 1379.1,230.7 1384.1,227.1 1389.1,223.7 1394.1,221.2 1399.1,218.6 1404.0,217.3 1409.0,213.0 1414.0,204.5 1419.0,198.5 1424.0,193.5 1428.9,188.8 1433.9,184.4 1438.9,178.2" fill="none" stroke="#4caf50" stroke-width="1.1" stroke-linejoin="round" stroke-dasharray="4 4.2"/>
<line x1="253.2" y1="8.5" x2="1403.6" y2="470.4" stroke="#b21c30" stroke-width="3.1" stroke-linecap="round"/>
<line x1="253.8" y1="469.7" x2="1403.6" y2="469.7" stroke="#1b5e20" stroke-width="3.4" stroke-linecap="round"/>
<text x="266.8" y="464.2" font-size="14.7" fill="#1b5e20" stroke="#1b5e20" stroke-width="0.55" textLength="44.2" lengthAdjust="spacingAndGlyphs">42,50</text>
<g stroke="#2962ff" stroke-width="3" stroke-linecap="round"><line x1="1378" y1="122.2" x2="1474" y2="122.2"/><line x1="1403" y1="164" x2="1474" y2="122.2"/></g>
<text x="1381.3" y="119.3" font-size="11.2" fill="#2962ff" stroke="#2962ff" stroke-width="0.5" textLength="30.5" lengthAdjust="spacingAndGlyphs">56,97</text>
<g stroke="#1a1a1a" stroke-width="1"><line x1="-0.50" y1="166.6" x2="-0.50" y2="209.0"/><line x1="4.50" y1="193.2" x2="4.50" y2="213.0"/><line x1="9.50" y1="157.1" x2="9.50" y2="207.9"/><line x1="14.50" y1="153.5" x2="14.50" y2="175.7"/><line x1="19.50" y1="159.9" x2="19.50" y2="179.7"/><line x1="24.50" y1="151.5" x2="24.50" y2="177.1"/><line x1="29.50" y1="117.8" x2="29.50" y2="157.1"/><line x1="34.50" y1="148.4" x2="34.50" y2="167.6"/><line x1="39.50" y1="140.0" x2="39.50" y2="154.1"/><line x1="44.50" y1="139.3" x2="44.50" y2="150.4"/><line x1="49.50" y1="128.9" x2="49.50" y2="151.5"/><line x1="54.50" y1="129.3" x2="54.50" y2="157.5"/><line x1="59.50" y1="154.1" x2="59.50" y2="177.1"/><line x1="64.50" y1="146.0" x2="64.50" y2="165.0"/><line x1="69.50" y1="139.7" x2="69.50" y2="155.5"/><line x1="74.50" y1="135.3" x2="74.50" y2="157.5"/><line x1="79.50" y1="152.5" x2="79.50" y2="173.0"/><line x1="84.50" y1="168.6" x2="84.50" y2="197.9"/><line x1="89.50" y1="183.7" x2="89.50" y2="210.6"/><line x1="94.50" y1="202.5" x2="94.50" y2="229.7"/><line x1="99.50" y1="190.2" x2="99.50" y2="216.6"/><line x1="104.50" y1="174.3" x2="104.50" y2="209.6"/><line x1="109.50" y1="159.1" x2="109.50" y2="193.8"/><line x1="114.50" y1="186.2" x2="114.50" y2="207.5"/><line x1="119.50" y1="183.3" x2="119.50" y2="207.9"/><line x1="124.50" y1="177.7" x2="124.50" y2="192.8"/><line x1="129.50" y1="174.3" x2="129.50" y2="188.8"/><line x1="134.50" y1="168.6" x2="134.50" y2="178.7"/><line x1="139.50" y1="162.6" x2="139.50" y2="178.7"/><line x1="144.50" y1="179.1" x2="144.50" y2="209.0"/><line x1="149.50" y1="190.2" x2="149.50" y2="211.6"/><line x1="154.50" y1="182.1" x2="154.50" y2="198.9"/><line x1="159.50" y1="180.7" x2="159.50" y2="190.8"/><line x1="164.50" y1="176.8" x2="164.50" y2="197.9"/><line x1="169.50" y1="163.6" x2="169.50" y2="185.8"/><line x1="174.50" y1="175.8" x2="174.50" y2="196.3"/><line x1="179.50" y1="186.2" x2="179.50" y2="205.0"/><line x1="184.50" y1="202.0" x2="184.50" y2="221.6"/><line x1="189.50" y1="197.9" x2="189.50" y2="209.0"/><line x1="193.50" y1="182.8" x2="193.50" y2="204.0"/><line x1="198.50" y1="188.3" x2="198.50" y2="216.5"/><line x1="203.50" y1="184.8" x2="203.50" y2="206.6"/><line x1="208.50" y1="163.2" x2="208.50" y2="185.8"/><line x1="213.50" y1="169.3" x2="213.50" y2="197.9"/><line x1="218.50" y1="132.4" x2="218.50" y2="175.8"/><line x1="223.50" y1="117.2" x2="223.50" y2="136.0"/><line x1="228.50" y1="96.7" x2="228.50" y2="120.3"/><line x1="233.50" y1="106.7" x2="233.50" y2="142.5"/><line x1="238.50" y1="122.3" x2="238.50" y2="140.8"/><line x1="243.50" y1="130.4" x2="243.50" y2="145.9"/><line x1="248.50" y1="113.2" x2="248.50" y2="142.9"/><line x1="253.50" y1="111.6" x2="253.50" y2="145.9"/><line x1="258.50" y1="121.3" x2="258.50" y2="142.5"/><line x1="263.50" y1="110.6" x2="263.50" y2="132.0"/><line x1="268.50" y1="130.0" x2="268.50" y2="178.8"/><line x1="273.50" y1="162.6" x2="273.50" y2="192.9"/><line x1="278.50" y1="179.4" x2="278.50" y2="226.6"/><line x1="283.50" y1="190.9" x2="283.50" y2="215.5"/><line x1="288.50" y1="186.9" x2="288.50" y2="208.0"/><line x1="293.50" y1="191.9" x2="293.50" y2="204.6"/><line x1="298.50" y1="196.9" x2="298.50" y2="246.4"/><line x1="303.50" y1="227.2" x2="303.50" y2="248.8"/><line x1="308.50" y1="211.1" x2="308.50" y2="236.3"/><line x1="313.50" y1="200.9" x2="313.50" y2="222.1"/><line x1="318.50" y1="195.9" x2="318.50" y2="221.1"/><line x1="323.50" y1="156.5" x2="323.50" y2="198.9"/><line x1="328.50" y1="118.6" x2="328.50" y2="154.0"/><line x1="333.50" y1="147.9" x2="333.50" y2="171.9"/><line x1="338.50" y1="140.9" x2="338.50" y2="177.4"/><line x1="343.50" y1="121.9" x2="343.50" y2="158.5"/><line x1="348.50" y1="119.4" x2="348.50" y2="137.1"/><line x1="353.50" y1="105.0" x2="353.50" y2="131.3"/><line x1="358.50" y1="112.6" x2="358.50" y2="130.3"/><line x1="363.50" y1="103.8" x2="363.50" y2="136.6"/><line x1="368.50" y1="60.1" x2="368.50" y2="111.8"/><line x1="373.50" y1="57.1" x2="373.50" y2="103.8"/><line x1="378.50" y1="55.6" x2="378.50" y2="93.7"/><line x1="383.50" y1="102.2" x2="383.50" y2="127.5"/><line x1="388.50" y1="103.0" x2="388.50" y2="121.4"/><line x1="393.50" y1="118.1" x2="393.50" y2="142.6"/><line x1="398.50" y1="114.4" x2="398.50" y2="149.7"/><line x1="403.50" y1="111.8" x2="403.50" y2="125.7"/><line x1="408.50" y1="107.5" x2="408.50" y2="128.2"/><line x1="413.50" y1="98.5" x2="413.50" y2="121.9"/><line x1="418.50" y1="92.4" x2="418.50" y2="119.4"/><line x1="423.50" y1="93.7" x2="423.50" y2="116.1"/><line x1="428.50" y1="89.9" x2="428.50" y2="134.5"/><line x1="433.50" y1="125.7" x2="433.50" y2="147.2"/><line x1="437.50" y1="127.0" x2="437.50" y2="141.4"/><line x1="442.50" y1="116.1" x2="442.50" y2="152.2"/><line x1="447.50" y1="86.6" x2="447.50" y2="128.2"/><line x1="452.50" y1="96.2" x2="452.50" y2="132.0"/><line x1="457.50" y1="113.8" x2="457.50" y2="133.8"/><line x1="462.50" y1="102.3" x2="462.50" y2="163.2"/><line x1="467.50" y1="161.4" x2="467.50" y2="211.6"/><line x1="472.50" y1="199.1" x2="472.50" y2="255.2"/><line x1="477.50" y1="190.0" x2="477.50" y2="266.7"/><line x1="482.50" y1="225.8" x2="482.50" y2="317.8"/><line x1="487.50" y1="239.1" x2="487.50" y2="342.6"/><line x1="492.50" y1="292.6" x2="492.50" y2="331.9"/><line x1="497.50" y1="278.8" x2="497.50" y2="302.6"/><line x1="502.50" y1="282.1" x2="502.50" y2="323.2"/><line x1="507.50" y1="306.3" x2="507.50" y2="342.6"/><line x1="512.50" y1="313.3" x2="512.50" y2="337.9"/><line x1="517.50" y1="323.4" x2="517.50" y2="358.5"/><line x1="522.50" y1="314.3" x2="522.50" y2="341.6"/><line x1="527.50" y1="331.3" x2="527.50" y2="373.7"/><line x1="532.50" y1="342.6" x2="532.50" y2="388.8"/><line x1="537.50" y1="340.4" x2="537.50" y2="387.4"/><line x1="542.50" y1="342.4" x2="542.50" y2="364.2"/><line x1="547.50" y1="327.9" x2="547.50" y2="359.1"/><line x1="552.50" y1="307.7" x2="552.50" y2="334.9"/><line x1="557.50" y1="312.1" x2="557.50" y2="345.6"/><line x1="562.50" y1="301.0" x2="562.50" y2="322.8"/><line x1="567.50" y1="302.2" x2="567.50" y2="330.9"/><line x1="572.50" y1="320.8" x2="572.50" y2="376.9"/><line x1="577.50" y1="357.7" x2="577.50" y2="379.9"/><line x1="582.50" y1="377.1" x2="582.50" y2="398.7"/><line x1="587.50" y1="383.6" x2="587.50" y2="403.3"/><line x1="592.50" y1="352.7" x2="592.50" y2="424.3"/><line x1="597.50" y1="372.1" x2="597.50" y2="398.7"/><line x1="602.50" y1="390.6" x2="602.50" y2="462.7"/><line x1="607.50" y1="415.2" x2="607.50" y2="451.6"/><line x1="612.50" y1="391.6" x2="612.50" y2="416.9"/><line x1="617.50" y1="380.1" x2="617.50" y2="401.7"/><line x1="622.50" y1="357.3" x2="622.50" y2="376.1"/><line x1="627.50" y1="365.4" x2="627.50" y2="388.6"/><line x1="632.50" y1="379.9" x2="632.50" y2="399.7"/><line x1="637.50" y1="383.0" x2="637.50" y2="399.3"/><line x1="642.50" y1="377.9" x2="642.50" y2="391.6"/><line x1="647.50" y1="381.9" x2="647.50" y2="409.2"/><line x1="652.50" y1="366.0" x2="652.50" y2="389.2"/><line x1="657.50" y1="354.3" x2="657.50" y2="379.1"/><line x1="662.50" y1="341.8" x2="662.50" y2="366.4"/><line x1="667.50" y1="340.2" x2="667.50" y2="370.8"/><line x1="672.50" y1="342.6" x2="672.50" y2="366.4"/><line x1="677.50" y1="348.9" x2="677.50" y2="369.0"/><line x1="681.50" y1="346.8" x2="681.50" y2="361.4"/><line x1="686.50" y1="330.1" x2="686.50" y2="350.3"/><line x1="691.50" y1="301.8" x2="691.50" y2="335.5"/><line x1="696.50" y1="298.6" x2="696.50" y2="318.3"/><line x1="701.50" y1="298.2" x2="701.50" y2="316.3"/><line x1="706.50" y1="305.2" x2="706.50" y2="323.4"/><line x1="711.50" y1="328.4" x2="711.50" y2="356.3"/><line x1="716.50" y1="348.6" x2="716.50" y2="382.5"/><line x1="721.50" y1="377.9" x2="721.50" y2="401.7"/><line x1="726.50" y1="376.9" x2="726.50" y2="393.4"/><line x1="731.50" y1="382.9" x2="731.50" y2="403.7"/><line x1="736.50" y1="376.9" x2="736.50" y2="394.0"/><line x1="741.50" y1="386.5" x2="741.50" y2="400.1"/><line x1="746.50" y1="385.3" x2="746.50" y2="400.1"/><line x1="751.50" y1="388.4" x2="751.50" y2="406.7"/><line x1="756.50" y1="393.6" x2="756.50" y2="407.7"/><line x1="761.50" y1="356.3" x2="761.50" y2="407.7"/><line x1="766.50" y1="357.7" x2="766.50" y2="378.3"/><line x1="771.50" y1="364.7" x2="771.50" y2="378.9"/><line x1="776.50" y1="373.2" x2="776.50" y2="388.4"/><line x1="781.50" y1="352.0" x2="781.50" y2="383.9"/><line x1="786.50" y1="353.0" x2="786.50" y2="368.8"/><line x1="791.50" y1="332.9" x2="791.50" y2="371.4"/><line x1="796.50" y1="352.6" x2="796.50" y2="378.3"/><line x1="801.50" y1="348.6" x2="801.50" y2="376.9"/><line x1="806.50" y1="360.1" x2="806.50" y2="391.6"/><line x1="811.50" y1="361.3" x2="811.50" y2="380.3"/><line x1="816.50" y1="339.1" x2="816.50" y2="376.9"/><line x1="821.50" y1="341.9" x2="821.50" y2="364.3"/><line x1="826.50" y1="361.7" x2="826.50" y2="382.5"/><line x1="831.50" y1="344.6" x2="831.50" y2="374.8"/><line x1="836.50" y1="321.0" x2="836.50" y2="338.5"/><line x1="841.50" y1="317.7" x2="841.50" y2="330.6"/><line x1="846.50" y1="318.2" x2="846.50" y2="363.5"/><line x1="851.50" y1="336.8" x2="851.50" y2="363.1"/><line x1="856.50" y1="367.0" x2="856.50" y2="387.4"/><line x1="861.50" y1="364.7" x2="861.50" y2="400.5"/><line x1="866.50" y1="408.5" x2="866.50" y2="475.2"/><line x1="871.50" y1="436.2" x2="871.50" y2="459.6"/><line x1="876.50" y1="408.5" x2="876.50" y2="450.5"/><line x1="881.50" y1="399.2" x2="881.50" y2="420.3"/><line x1="886.50" y1="398.0" x2="886.50" y2="428.7"/><line x1="891.50" y1="398.0" x2="891.50" y2="428.7"/><line x1="896.50" y1="394.9" x2="896.50" y2="414.2"/><line x1="901.50" y1="388.5" x2="901.50" y2="403.7"/><line x1="906.50" y1="376.7" x2="906.50" y2="396.9"/><line x1="911.50" y1="351.1" x2="911.50" y2="387.8"/><line x1="916.50" y1="347.7" x2="916.50" y2="371.5"/><line x1="921.50" y1="332.5" x2="921.50" y2="349.3"/><line x1="925.50" y1="331.3" x2="925.50" y2="344.7"/><line x1="930.50" y1="327.7" x2="930.50" y2="343.1"/><line x1="935.50" y1="310.2" x2="935.50" y2="342.4"/><line x1="940.50" y1="326.6" x2="940.50" y2="346.1"/><line x1="945.50" y1="320.9" x2="945.50" y2="353.8"/><line x1="950.50" y1="343.6" x2="950.50" y2="373.1"/><line x1="955.50" y1="360.8" x2="955.50" y2="370.8"/><line x1="960.50" y1="351.1" x2="960.50" y2="366.5"/><line x1="965.50" y1="355.6" x2="965.50" y2="379.9"/><line x1="970.50" y1="362.4" x2="970.50" y2="376.0"/><line x1="975.50" y1="351.1" x2="975.50" y2="368.8"/><line x1="980.50" y1="335.2" x2="980.50" y2="366.3"/><line x1="985.50" y1="354.9" x2="985.50" y2="388.5"/><line x1="990.50" y1="366.0" x2="990.50" y2="384.2"/><line x1="995.50" y1="376.1" x2="995.50" y2="399.7"/><line x1="1000.50" y1="359.3" x2="1000.50" y2="379.5"/><line x1="1005.50" y1="361.4" x2="1005.50" y2="376.5"/><line x1="1010.50" y1="342.8" x2="1010.50" y2="366.4"/><line x1="1015.50" y1="350.3" x2="1015.50" y2="393.0"/><line x1="1020.50" y1="378.5" x2="1020.50" y2="396.7"/><line x1="1025.50" y1="376.1" x2="1025.50" y2="396.3"/><line x1="1030.50" y1="377.1" x2="1030.50" y2="395.7"/><line x1="1035.50" y1="389.2" x2="1035.50" y2="408.8"/><line x1="1040.50" y1="398.7" x2="1040.50" y2="422.3"/><line x1="1045.50" y1="407.2" x2="1045.50" y2="423.9"/><line x1="1050.50" y1="407.2" x2="1050.50" y2="429.6"/><line x1="1055.50" y1="425.3" x2="1055.50" y2="445.5"/><line x1="1060.50" y1="436.4" x2="1060.50" y2="469.3"/><line x1="1065.50" y1="444.1" x2="1065.50" y2="467.9"/><line x1="1070.50" y1="430.4" x2="1070.50" y2="453.2"/><line x1="1075.50" y1="408.8" x2="1075.50" y2="444.7"/><line x1="1080.50" y1="333.5" x2="1080.50" y2="404.7"/><line x1="1085.50" y1="362.4" x2="1085.50" y2="404.7"/><line x1="1090.50" y1="376.1" x2="1090.50" y2="414.8"/><line x1="1095.50" y1="383.0" x2="1095.50" y2="408.4"/><line x1="1100.50" y1="402.3" x2="1100.50" y2="424.5"/><line x1="1105.50" y1="408.8" x2="1105.50" y2="420.3"/><line x1="1110.50" y1="401.3" x2="1110.50" y2="418.3"/><line x1="1115.50" y1="411.8" x2="1115.50" y2="437.4"/><line x1="1120.50" y1="425.9" x2="1120.50" y2="451.2"/><line x1="1125.50" y1="434.4" x2="1125.50" y2="450.8"/><line x1="1130.50" y1="426.3" x2="1130.50" y2="447.5"/><line x1="1135.50" y1="433.6" x2="1135.50" y2="452.6"/><line x1="1140.50" y1="436.5" x2="1140.50" y2="455.9"/><line x1="1145.50" y1="433.4" x2="1145.50" y2="445.3"/><line x1="1150.50" y1="417.0" x2="1150.50" y2="449.1"/><line x1="1155.50" y1="400.6" x2="1155.50" y2="423.8"/><line x1="1160.50" y1="422.6" x2="1160.50" y2="444.0"/><line x1="1165.50" y1="433.2" x2="1165.50" y2="444.0"/><line x1="1169.50" y1="436.5" x2="1169.50" y2="452.9"/><line x1="1174.50" y1="447.3" x2="1174.50" y2="465.5"/><line x1="1179.50" y1="455.4" x2="1179.50" y2="470.5"/><line x1="1184.50" y1="385.5" x2="1184.50" y2="453.6"/><line x1="1189.50" y1="368.3" x2="1189.50" y2="400.6"/><line x1="1194.50" y1="364.5" x2="1194.50" y2="393.6"/><line x1="1199.50" y1="366.3" x2="1199.50" y2="395.6"/><line x1="1204.50" y1="365.8" x2="1204.50" y2="394.8"/><line x1="1209.50" y1="356.2" x2="1209.50" y2="381.5"/><line x1="1214.50" y1="353.9" x2="1214.50" y2="372.6"/><line x1="1219.50" y1="346.4" x2="1219.50" y2="365.8"/><line x1="1224.50" y1="314.1" x2="1224.50" y2="345.1"/><line x1="1229.50" y1="290.9" x2="1229.50" y2="313.6"/><line x1="1234.50" y1="285.0" x2="1234.50" y2="319.9"/><line x1="1239.50" y1="322.9" x2="1239.50" y2="377.9"/><line x1="1244.50" y1="338.5" x2="1244.50" y2="368.8"/><line x1="1249.50" y1="339.8" x2="1249.50" y2="362.0"/><line x1="1254.50" y1="355.7" x2="1254.50" y2="388.5"/><line x1="1259.50" y1="375.9" x2="1259.50" y2="398.6"/><line x1="1264.50" y1="356.5" x2="1264.50" y2="392.3"/><line x1="1269.50" y1="317.1" x2="1269.50" y2="341.8"/><line x1="1274.50" y1="298.4" x2="1274.50" y2="329.2"/><line x1="1279.50" y1="296.4" x2="1279.50" y2="312.3"/><line x1="1284.50" y1="299.4" x2="1284.50" y2="307.3"/><line x1="1289.50" y1="287.9" x2="1289.50" y2="313.2"/><line x1="1294.50" y1="303.3" x2="1294.50" y2="327.0"/><line x1="1299.50" y1="254.6" x2="1299.50" y2="298.0"/><line x1="1304.50" y1="237.9" x2="1304.50" y2="278.6"/><line x1="1309.50" y1="228.1" x2="1309.50" y2="246.3"/><line x1="1314.50" y1="231.1" x2="1314.50" y2="248.3"/><line x1="1319.50" y1="239.5" x2="1319.50" y2="275.3"/><line x1="1324.50" y1="248.3" x2="1324.50" y2="276.1"/><line x1="1329.50" y1="250.8" x2="1329.50" y2="274.0"/><line x1="1334.50" y1="217.8" x2="1334.50" y2="238.7"/><line x1="1339.50" y1="178.6" x2="1339.50" y2="217.3"/><line x1="1344.50" y1="181.4" x2="1344.50" y2="208.4"/><line x1="1349.50" y1="185.7" x2="1349.50" y2="207.2"/><line x1="1354.50" y1="199.6" x2="1354.50" y2="216.0"/><line x1="1359.50" y1="177.4" x2="1359.50" y2="210.9"/><line x1="1364.50" y1="178.1" x2="1364.50" y2="194.5"/><line x1="1369.50" y1="179.4" x2="1369.50" y2="195.8"/><line x1="1374.50" y1="179.4" x2="1374.50" y2="191.5"/><line x1="1379.50" y1="174.4" x2="1379.50" y2="188.2"/><line x1="1384.50" y1="181.4" x2="1384.50" y2="195.8"/><line x1="1389.50" y1="188.2" x2="1389.50" y2="197.1"/><line x1="1394.50" y1="189.0" x2="1394.50" y2="198.8"/><line x1="1399.50" y1="185.2" x2="1399.50" y2="204.6"/><line x1="1404.50" y1="195.8" x2="1404.50" y2="224.8"/><line x1="1409.50" y1="165.5" x2="1409.50" y2="200.9"/><line x1="1413.50" y1="125.6" x2="1413.50" y2="157.4"/><line x1="1418.50" y1="120.6" x2="1418.50" y2="144.1"/><line x1="1423.50" y1="134.0" x2="1423.50" y2="147.9"/><line x1="1428.50" y1="128.9" x2="1428.50" y2="150.4"/><line x1="1433.50" y1="130.7" x2="1433.50" y2="149.1"/><line x1="1438.50" y1="119.3" x2="1438.50" y2="144.8"/></g>
<g fill="#4caf50" stroke="#2e7d32" stroke-width="0.8"><rect x="2.80" y="193.8" width="3.4" height="14.1"/><rect x="7.80" y="165.0" width="3.4" height="35.3"/><rect x="17.80" y="165.0" width="3.4" height="2.0"/><rect x="22.80" y="152.9" width="3.4" height="10.1"/><rect x="37.80" y="145.4" width="3.4" height="8.1"/><rect x="47.80" y="131.7" width="3.4" height="11.1"/><rect x="62.80" y="153.5" width="3.4" height="10.1"/><rect x="67.80" y="142.4" width="3.4" height="11.7"/><rect x="97.80" y="194.2" width="3.4" height="18.8"/><rect x="102.80" y="176.7" width="3.4" height="32.3"/><rect x="117.80" y="183.7" width="3.4" height="22.8"/><rect x="122.80" y="178.7" width="3.4" height="6.1"/><rect x="127.80" y="174.7" width="3.4" height="7.1"/><rect x="132.80" y="169.2" width="3.4" height="8.1"/><rect x="147.80" y="198.3" width="3.4" height="10.7"/><rect x="152.80" y="191.2" width="3.4" height="3.2"/><rect x="157.80" y="186.4" width="3.4" height="4.0"/><rect x="162.80" y="183.4" width="3.4" height="8.1"/><rect x="167.80" y="174.3" width="3.4" height="9.9"/><rect x="187.80" y="203.0" width="3.4" height="4.6"/><rect x="191.80" y="195.3" width="3.4" height="4.0"/><rect x="196.80" y="189.3" width="3.4" height="12.1"/><rect x="206.80" y="176.4" width="3.4" height="8.1"/><rect x="211.80" y="175.1" width="3.4" height="12.7"/><rect x="216.80" y="134.4" width="3.4" height="40.4"/><rect x="221.80" y="124.3" width="3.4" height="11.1"/><rect x="226.80" y="105.5" width="3.4" height="1.0"/><rect x="236.80" y="136.0" width="3.4" height="1.0"/><rect x="241.80" y="131.8" width="3.4" height="2.6"/><rect x="251.80" y="119.3" width="3.4" height="22.8"/><rect x="261.80" y="123.3" width="3.4" height="2.4"/><rect x="281.80" y="198.6" width="3.4" height="11.9"/><rect x="286.80" y="194.3" width="3.4" height="10.3"/><rect x="301.80" y="230.6" width="3.4" height="14.7"/><rect x="306.80" y="219.1" width="3.4" height="12.1"/><rect x="311.80" y="201.9" width="3.4" height="15.9"/><rect x="316.80" y="200.9" width="3.4" height="8.8"/><rect x="321.80" y="159.0" width="3.4" height="39.4"/><rect x="326.80" y="150.9" width="3.4" height="1.8"/><rect x="336.80" y="141.4" width="3.4" height="29.3"/><rect x="341.80" y="125.0" width="3.4" height="12.6"/><rect x="346.80" y="120.7" width="3.4" height="2.0"/><rect x="356.80" y="121.9" width="3.4" height="7.6"/><rect x="361.80" y="114.4" width="3.4" height="5.6"/><rect x="366.80" y="97.4" width="3.4" height="12.4"/><rect x="371.80" y="60.1" width="3.4" height="40.4"/><rect x="386.80" y="112.6" width="3.4" height="6.3"/><rect x="396.80" y="118.1" width="3.4" height="16.9"/><rect x="406.80" y="116.9" width="3.4" height="5.0"/><rect x="411.80" y="110.1" width="3.4" height="10.6"/><rect x="416.80" y="97.4" width="3.4" height="15.6"/><rect x="431.80" y="131.3" width="3.4" height="2.0"/><rect x="440.80" y="117.4" width="3.4" height="12.1"/><rect x="445.80" y="99.2" width="3.4" height="22.7"/><rect x="455.80" y="121.9" width="3.4" height="4.5"/><rect x="480.80" y="233.0" width="3.4" height="55.5"/><rect x="490.80" y="299.6" width="3.4" height="6.1"/><rect x="495.80" y="281.5" width="3.4" height="4.0"/><rect x="520.80" y="319.4" width="3.4" height="13.1"/><rect x="530.80" y="346.4" width="3.4" height="18.2"/><rect x="540.80" y="352.5" width="3.4" height="3.2"/><rect x="545.80" y="333.9" width="3.4" height="20.6"/><rect x="550.80" y="310.7" width="3.4" height="1.0"/><rect x="560.80" y="303.0" width="3.4" height="10.1"/><rect x="575.80" y="368.2" width="3.4" height="4.4"/><rect x="590.80" y="358.7" width="3.4" height="48.4"/><rect x="605.80" y="416.2" width="3.4" height="28.5"/><rect x="610.80" y="393.0" width="3.4" height="19.4"/><rect x="615.80" y="382.1" width="3.4" height="15.1"/><rect x="620.80" y="366.4" width="3.4" height="9.1"/><rect x="630.80" y="386.2" width="3.4" height="3.4"/><rect x="640.80" y="381.1" width="3.4" height="8.5"/><rect x="645.80" y="388.2" width="3.4" height="1.4"/><rect x="650.80" y="366.8" width="3.4" height="20.8"/><rect x="655.80" y="356.3" width="3.4" height="10.1"/><rect x="660.80" y="343.8" width="3.4" height="7.5"/><rect x="679.80" y="353.3" width="3.4" height="7.1"/><rect x="684.80" y="338.8" width="3.4" height="10.5"/><rect x="689.80" y="316.3" width="3.4" height="18.2"/><rect x="694.80" y="311.9" width="3.4" height="2.8"/><rect x="699.80" y="299.8" width="3.4" height="12.1"/><rect x="724.80" y="389.0" width="3.4" height="1.6"/><rect x="729.80" y="388.6" width="3.4" height="0.9"/><rect x="734.80" y="384.9" width="3.4" height="1.4"/><rect x="759.80" y="374.4" width="3.4" height="31.1"/><rect x="764.80" y="372.2" width="3.4" height="1.6"/><rect x="779.80" y="371.4" width="3.4" height="8.9"/><rect x="784.80" y="356.3" width="3.4" height="10.5"/><rect x="789.80" y="335.1" width="3.4" height="26.2"/><rect x="799.80" y="364.1" width="3.4" height="11.3"/><rect x="809.80" y="368.2" width="3.4" height="10.7"/><rect x="814.80" y="346.0" width="3.4" height="30.3"/><rect x="829.80" y="347.2" width="3.4" height="27.0"/><rect x="834.80" y="324.4" width="3.4" height="3.0"/><rect x="869.80" y="442.3" width="3.4" height="15.9"/><rect x="874.80" y="411.9" width="3.4" height="34.0"/><rect x="879.80" y="400.5" width="3.4" height="6.1"/><rect x="889.80" y="413.0" width="3.4" height="10.2"/><rect x="894.80" y="398.0" width="3.4" height="13.6"/><rect x="904.80" y="382.4" width="3.4" height="12.5"/><rect x="909.80" y="351.5" width="3.4" height="27.2"/><rect x="919.80" y="337.0" width="3.4" height="3.9"/><rect x="928.80" y="337.9" width="3.4" height="1.8"/><rect x="938.80" y="336.8" width="3.4" height="5.2"/><rect x="953.80" y="366.5" width="3.4" height="0.9"/><rect x="958.80" y="356.3" width="3.4" height="8.4"/><rect x="968.80" y="368.1" width="3.4" height="4.1"/><rect x="973.80" y="362.0" width="3.4" height="2.7"/><rect x="978.80" y="359.5" width="3.4" height="5.2"/><rect x="988.80" y="368.4" width="3.4" height="10.1"/><rect x="998.80" y="366.4" width="3.4" height="12.1"/><rect x="1008.80" y="358.9" width="3.4" height="5.0"/><rect x="1018.80" y="388.0" width="3.4" height="1.0"/><rect x="1063.80" y="445.1" width="3.4" height="4.0"/><rect x="1068.80" y="444.1" width="3.4" height="4.4"/><rect x="1073.80" y="419.3" width="3.4" height="24.2"/><rect x="1078.80" y="361.4" width="3.4" height="36.3"/><rect x="1088.80" y="394.7" width="3.4" height="7.1"/><rect x="1108.80" y="411.8" width="3.4" height="3.0"/><rect x="1123.80" y="437.0" width="3.4" height="10.7"/><rect x="1138.80" y="442.3" width="3.4" height="9.3"/><rect x="1148.80" y="418.0" width="3.4" height="26.0"/><rect x="1163.80" y="433.9" width="3.4" height="3.0"/><rect x="1182.80" y="390.3" width="3.4" height="61.3"/><rect x="1187.80" y="379.7" width="3.4" height="15.1"/><rect x="1202.80" y="369.6" width="3.4" height="22.7"/><rect x="1207.80" y="365.8" width="3.4" height="4.3"/><rect x="1212.80" y="362.5" width="3.4" height="1.3"/><rect x="1217.80" y="349.4" width="3.4" height="15.1"/><rect x="1222.80" y="314.6" width="3.4" height="29.8"/><rect x="1227.80" y="306.0" width="3.4" height="1.3"/><rect x="1242.80" y="361.3" width="3.4" height="6.6"/><rect x="1247.80" y="354.4" width="3.4" height="6.8"/><rect x="1257.80" y="382.7" width="3.4" height="1.3"/><rect x="1262.80" y="373.9" width="3.4" height="3.3"/><rect x="1267.80" y="327.2" width="3.4" height="11.4"/><rect x="1272.80" y="307.3" width="3.4" height="19.9"/><rect x="1277.80" y="302.2" width="3.4" height="5.6"/><rect x="1297.80" y="262.7" width="3.4" height="24.0"/><rect x="1302.80" y="241.2" width="3.4" height="25.7"/><rect x="1307.80" y="236.2" width="3.4" height="4.3"/><rect x="1322.80" y="257.1" width="3.4" height="10.1"/><rect x="1332.80" y="230.6" width="3.4" height="3.0"/><rect x="1337.80" y="190.3" width="3.4" height="16.9"/><rect x="1357.80" y="192.0" width="3.4" height="17.2"/><rect x="1362.80" y="181.9" width="3.4" height="11.9"/><rect x="1372.80" y="181.4" width="3.4" height="6.3"/><rect x="1387.80" y="191.3" width="3.4" height="1.3"/><rect x="1397.80" y="194.5" width="3.4" height="5.0"/><rect x="1407.80" y="173.6" width="3.4" height="26.8"/><rect x="1411.80" y="126.4" width="3.4" height="30.3"/><rect x="1431.80" y="143.3" width="3.4" height="0.9"/><rect x="1436.80" y="120.6" width="3.4" height="17.2"/></g>
<g fill="#f23645" stroke="#a3202c" stroke-width="0.8"><rect x="-2.20" y="166.6" width="3.4" height="40.4"/><rect x="12.80" y="157.9" width="3.4" height="14.1"/><rect x="27.80" y="130.9" width="3.4" height="23.6"/><rect x="32.80" y="153.5" width="3.4" height="2.0"/><rect x="42.80" y="143.4" width="3.4" height="2.6"/><rect x="52.80" y="132.7" width="3.4" height="23.8"/><rect x="57.80" y="158.5" width="3.4" height="4.4"/><rect x="72.80" y="145.2" width="3.4" height="11.3"/><rect x="77.80" y="154.1" width="3.4" height="13.9"/><rect x="82.80" y="169.2" width="3.4" height="28.0"/><rect x="87.80" y="189.4" width="3.4" height="14.9"/><rect x="92.80" y="202.9" width="3.4" height="12.1"/><rect x="107.80" y="182.7" width="3.4" height="10.1"/><rect x="112.80" y="192.8" width="3.4" height="11.7"/><rect x="137.80" y="175.1" width="3.4" height="1.2"/><rect x="142.80" y="179.3" width="3.4" height="29.3"/><rect x="172.80" y="177.4" width="3.4" height="4.0"/><rect x="177.80" y="190.3" width="3.4" height="10.7"/><rect x="182.80" y="204.4" width="3.4" height="7.1"/><rect x="201.80" y="192.3" width="3.4" height="5.6"/><rect x="231.80" y="112.6" width="3.4" height="29.3"/><rect x="246.80" y="133.4" width="3.4" height="5.4"/><rect x="256.80" y="135.4" width="3.4" height="5.0"/><rect x="266.80" y="167.7" width="3.4" height="1.4"/><rect x="271.80" y="168.1" width="3.4" height="12.3"/><rect x="276.80" y="181.2" width="3.4" height="25.8"/><rect x="291.80" y="192.9" width="3.4" height="5.4"/><rect x="296.80" y="197.3" width="3.4" height="45.0"/><rect x="331.80" y="154.0" width="3.4" height="15.9"/><rect x="351.80" y="118.1" width="3.4" height="10.6"/><rect x="376.80" y="65.1" width="3.4" height="24.5"/><rect x="381.80" y="103.8" width="3.4" height="18.7"/><rect x="391.80" y="121.2" width="3.4" height="16.4"/><rect x="401.80" y="119.9" width="3.4" height="1.3"/><rect x="421.80" y="97.4" width="3.4" height="5.6"/><rect x="426.80" y="95.4" width="3.4" height="37.9"/><rect x="435.80" y="133.3" width="3.4" height="6.3"/><rect x="450.80" y="103.5" width="3.4" height="23.5"/><rect x="460.80" y="107.3" width="3.4" height="54.1"/><rect x="465.80" y="168.5" width="3.4" height="31.3"/><rect x="470.80" y="201.8" width="3.4" height="28.0"/><rect x="475.80" y="202.6" width="3.4" height="44.6"/><rect x="485.80" y="241.1" width="3.4" height="64.6"/><rect x="500.80" y="288.1" width="3.4" height="27.2"/><rect x="505.80" y="313.7" width="3.4" height="16.5"/><rect x="510.80" y="333.9" width="3.4" height="1.0"/><rect x="515.80" y="331.5" width="3.4" height="9.1"/><rect x="525.80" y="350.5" width="3.4" height="22.2"/><rect x="535.80" y="342.4" width="3.4" height="23.2"/><rect x="555.80" y="324.2" width="3.4" height="1.2"/><rect x="565.80" y="305.7" width="3.4" height="9.1"/><rect x="570.80" y="321.8" width="3.4" height="51.5"/><rect x="580.80" y="387.2" width="3.4" height="3.4"/><rect x="585.80" y="389.6" width="3.4" height="11.1"/><rect x="595.80" y="379.5" width="3.4" height="17.8"/><rect x="600.80" y="394.7" width="3.4" height="65.0"/><rect x="625.80" y="370.4" width="3.4" height="17.2"/><rect x="635.80" y="389.0" width="3.4" height="1.2"/><rect x="665.80" y="351.3" width="3.4" height="9.1"/><rect x="670.80" y="358.9" width="3.4" height="4.8"/><rect x="675.80" y="361.4" width="3.4" height="6.1"/><rect x="704.80" y="310.3" width="3.4" height="11.1"/><rect x="709.80" y="331.5" width="3.4" height="15.5"/><rect x="714.80" y="353.6" width="3.4" height="27.8"/><rect x="719.80" y="379.3" width="3.4" height="12.1"/><rect x="739.80" y="387.3" width="3.4" height="7.3"/><rect x="744.80" y="390.0" width="3.4" height="5.6"/><rect x="749.80" y="391.0" width="3.4" height="12.1"/><rect x="754.80" y="401.5" width="3.4" height="3.6"/><rect x="769.80" y="366.8" width="3.4" height="7.5"/><rect x="774.80" y="375.2" width="3.4" height="9.7"/><rect x="794.80" y="354.1" width="3.4" height="21.4"/><rect x="804.80" y="368.2" width="3.4" height="18.2"/><rect x="819.80" y="344.6" width="3.4" height="18.6"/><rect x="824.80" y="362.3" width="3.4" height="17.6"/><rect x="839.80" y="323.2" width="3.4" height="1.8"/><rect x="844.80" y="322.0" width="3.4" height="15.4"/><rect x="849.80" y="337.4" width="3.4" height="22.2"/><rect x="854.80" y="368.1" width="3.4" height="7.5"/><rect x="859.80" y="372.2" width="3.4" height="25.4"/><rect x="864.80" y="443.7" width="3.4" height="23.2"/><rect x="884.80" y="403.7" width="3.4" height="23.8"/><rect x="899.80" y="395.3" width="3.4" height="3.9"/><rect x="914.80" y="352.2" width="3.4" height="9.5"/><rect x="923.80" y="338.6" width="3.4" height="4.5"/><rect x="933.80" y="335.2" width="3.4" height="6.4"/><rect x="943.80" y="327.9" width="3.4" height="21.6"/><rect x="948.80" y="348.8" width="3.4" height="20.4"/><rect x="963.80" y="357.2" width="3.4" height="16.6"/><rect x="983.80" y="357.2" width="3.4" height="22.2"/><rect x="993.80" y="378.9" width="3.4" height="1.6"/><rect x="1003.80" y="368.0" width="3.4" height="4.0"/><rect x="1013.80" y="362.0" width="3.4" height="30.3"/><rect x="1023.80" y="388.2" width="3.4" height="7.1"/><rect x="1028.80" y="390.6" width="3.4" height="2.4"/><rect x="1033.80" y="394.7" width="3.4" height="13.1"/><rect x="1038.80" y="404.7" width="3.4" height="16.7"/><rect x="1043.80" y="421.5" width="3.4" height="1.8"/><rect x="1048.80" y="423.3" width="3.4" height="1.2"/><rect x="1053.80" y="429.0" width="3.4" height="15.1"/><rect x="1058.80" y="443.1" width="3.4" height="20.8"/><rect x="1083.80" y="369.0" width="3.4" height="34.7"/><rect x="1093.80" y="397.3" width="3.4" height="6.1"/><rect x="1098.80" y="405.4" width="3.4" height="10.5"/><rect x="1103.80" y="413.2" width="3.4" height="5.6"/><rect x="1113.80" y="412.4" width="3.4" height="21.0"/><rect x="1118.80" y="440.5" width="3.4" height="4.6"/><rect x="1128.80" y="438.4" width="3.4" height="4.0"/><rect x="1133.80" y="440.1" width="3.4" height="8.5"/><rect x="1143.80" y="441.5" width="3.4" height="1.8"/><rect x="1153.80" y="417.5" width="3.4" height="5.0"/><rect x="1158.80" y="423.3" width="3.4" height="13.9"/><rect x="1167.80" y="437.7" width="3.4" height="10.1"/><rect x="1172.80" y="448.6" width="3.4" height="15.6"/><rect x="1177.80" y="464.2" width="3.4" height="5.6"/><rect x="1192.80" y="376.4" width="3.4" height="3.8"/><rect x="1197.80" y="389.0" width="3.4" height="4.5"/><rect x="1232.80" y="307.8" width="3.4" height="9.6"/><rect x="1237.80" y="325.4" width="3.4" height="39.1"/><rect x="1252.80" y="356.5" width="3.4" height="30.0"/><rect x="1282.80" y="303.2" width="3.4" height="0.9"/><rect x="1287.80" y="303.1" width="3.4" height="1.3"/><rect x="1292.80" y="309.4" width="3.4" height="17.2"/><rect x="1312.80" y="234.9" width="3.4" height="12.1"/><rect x="1317.80" y="244.5" width="3.4" height="25.7"/><rect x="1327.80" y="258.1" width="3.4" height="1.5"/><rect x="1342.80" y="190.8" width="3.4" height="0.9"/><rect x="1347.80" y="194.5" width="3.4" height="11.4"/><rect x="1352.80" y="210.2" width="3.4" height="0.9"/><rect x="1367.80" y="181.9" width="3.4" height="8.8"/><rect x="1377.80" y="180.7" width="3.4" height="2.0"/><rect x="1382.80" y="183.2" width="3.4" height="10.9"/><rect x="1392.80" y="192.0" width="3.4" height="5.6"/><rect x="1402.80" y="202.9" width="3.4" height="1.8"/><rect x="1416.80" y="128.9" width="3.4" height="13.9"/><rect x="1421.80" y="143.6" width="3.4" height="3.5"/><rect x="1426.80" y="138.5" width="3.4" height="6.8"/></g>
<rect x="1482.9" y="46.6" width="42.6" height="21.2" rx="3.8" fill="#fde4e6" stroke="#c84655" stroke-width="1.2"/>
<text x="1490.1" y="60.6" font-size="10.2" fill="#b92837" stroke="#b92837" stroke-width="0.45" textLength="27" lengthAdjust="spacingAndGlyphs">60,20</text>
<rect x="1482.9" y="77.5" width="42.6" height="21.2" rx="3.8" fill="#fde4e6" stroke="#c84655" stroke-width="1.2"/>
<text x="1490.1" y="91.5" font-size="10.2" fill="#b92837" stroke="#b92837" stroke-width="0.45" textLength="27" lengthAdjust="spacingAndGlyphs">58,60</text>
<line x1="0" y1="588.6" x2="1546.5" y2="588.6" stroke="#555" stroke-width="1"/>
<g stroke="#7a7a7a" stroke-width="1" stroke-dasharray="3.9 5.3"><line x1="0" y1="563.7" x2="1546.5" y2="563.7"/><line x1="0" y1="611.6" x2="1546.5" y2="611.6"/></g>
<polyline points="-0.2,573.2 4.8,572.7 9.7,572.7 14.7,573.2 19.7,573.4 24.7,573.4 29.7,573.2 34.6,572.9 39.6,572.5 44.6,572.0 49.6,572.9 54.6,573.8 59.5,574.6 64.5,574.7 69.5,574.8 74.5,575.0 79.5,576.3 84.4,577.8 89.4,579.3 94.4,580.8 99.4,582.2 104.4,583.5 109.3,584.3 114.3,585.3 119.3,586.3 124.3,586.9 129.3,587.2 134.2,587.7 139.2,588.6 144.2,590.2 149.2,590.8 154.2,590.5 159.1,589.9 164.1,589.0 169.1,588.4 174.1,588.5 179.1,588.8 184.0,589.0 189.0,589.5 194.0,589.8 199.0,590.1 204.0,590.8 208.9,590.6 213.9,589.6 218.9,588.0 223.9,586.4 228.9,584.6 233.8,584.0 238.8,583.5 243.8,582.7 248.8,581.7 253.7,579.9 258.7,579.0 263.7,578.1 268.7,578.3 273.7,578.5 278.6,579.7 283.6,580.8 288.6,582.7 293.6,584.8 298.6,587.9 303.5,589.6 308.5,591.2 313.5,592.4 318.5,593.5 323.5,594.1 328.4,593.9 333.4,594.5 338.4,593.6 343.4,592.3 348.4,590.4 353.3,589.0 358.3,587.5 363.3,585.8 368.3,583.2 373.3,580.3 378.2,578.5 383.2,577.8 388.2,576.9 393.2,577.3 398.2,577.6 403.1,577.5 408.1,577.8 413.1,578.2 418.1,578.5 423.1,578.7 428.0,579.7 433.0,580.8 438.0,582.3 443.0,583.9 448.0,584.3 452.9,584.7 457.9,585.1 462.9,585.7 467.9,587.2 472.9,589.0 477.8,591.0 482.8,592.8 487.8,595.5 492.8,597.9 497.8,599.4 502.7,601.1 507.7,602.8 512.7,605.0 517.7,607.5 522.6,609.1 527.6,611.1 532.6,612.0 537.6,612.5 542.6,612.5 547.5,611.9 552.5,611.3 557.5,610.2 562.5,608.8 567.5,607.9 572.4,607.4 577.4,606.7 582.4,606.1 587.4,605.6 592.4,604.9 597.3,604.0 602.3,604.2 607.3,603.6 612.3,602.9 617.3,602.3 622.2,602.0 627.2,601.8 632.2,601.9 637.2,601.8 642.2,601.1 647.1,600.4 652.1,599.3 657.1,597.8 662.1,596.9 667.1,595.9 672.0,594.4 677.0,593.6 682.0,592.8 687.0,592.0 692.0,590.9 696.9,589.5 701.9,588.0 706.9,586.9 711.9,586.5 716.9,586.6 721.8,587.1 726.8,587.8 731.8,588.7 736.8,589.2 741.8,589.9 746.7,590.5 751.7,591.5 756.7,592.8 761.7,593.6 766.6,594.5 771.6,595.6 776.6,596.5 781.6,596.5 786.6,595.5 791.5,593.9 796.5,593.3 801.5,592.6 806.5,592.3 811.5,591.5 816.4,590.3 821.4,589.2 826.4,588.5 831.4,588.0 836.4,587.1 841.3,586.3 846.3,585.4 851.3,585.4 856.3,586.1 861.3,587.6 866.2,588.9 871.2,590.0 876.2,590.1 881.2,590.5 886.2,591.6 891.1,592.1 896.1,592.1 901.1,592.7 906.1,593.3 911.1,593.5 916.0,593.6 921.0,592.9 926.0,591.9 931.0,590.6 936.0,588.5 940.9,586.8 945.9,585.8 950.9,585.5 955.9,584.8 960.9,584.1 965.8,584.1 970.8,583.9 975.8,583.8 980.8,584.2 985.8,584.9 990.7,585.6 995.7,586.5 1000.7,587.2 1005.7,587.9 1010.6,588.3 1015.6,589.3 1020.6,589.6 1025.6,590.2 1030.6,591.0 1035.5,591.7 1040.5,592.7 1045.5,594.0 1050.5,595.3 1055.5,596.5 1060.4,598.3 1065.4,599.2 1070.4,600.4 1075.4,600.7 1080.4,600.1 1085.3,599.7 1090.3,599.2 1095.3,598.7 1100.3,598.4 1105.3,598.0 1110.2,597.1 1115.2,596.5 1120.2,596.2 1125.2,595.3 1130.2,594.2 1135.1,593.8 1140.1,593.3 1145.1,593.5 1150.1,594.3 1155.1,594.3 1160.0,594.9 1165.0,595.2 1170.0,595.5 1175.0,596.2 1180.0,597.1 1184.9,595.8 1189.9,594.1 1194.9,592.6 1199.9,591.4 1204.9,589.6 1209.8,587.9 1214.8,586.2 1219.8,584.9 1224.8,582.9 1229.8,580.6 1234.7,578.7 1239.7,577.6 1244.7,576.2 1249.7,574.6 1254.6,575.4 1259.6,576.4 1264.6,577.1 1269.6,576.7 1274.6,576.5 1279.5,576.2 1284.5,576.0 1289.5,576.1 1294.5,577.3 1299.5,577.7 1304.4,577.4 1309.4,575.9 1314.4,574.8 1319.4,574.3 1324.4,573.0 1329.3,571.9 1334.3,570.5 1339.3,569.5 1344.3,568.7 1349.3,568.5 1354.2,568.4 1359.2,567.9 1364.2,566.8 1369.2,566.8 1374.2,567.0 1379.1,567.3 1384.1,567.6 1389.1,567.3 1394.1,567.4 1399.1,567.3 1404.0,568.1 1409.0,568.6 1414.0,568.5 1419.0,568.5 1424.0,568.4 1428.9,568.6 1433.9,568.9 1438.9,568.6" fill="none" stroke="#f07830" stroke-width="1.15" stroke-linejoin="round" />
<polyline points="-0.2,581.3 4.8,579.2 9.7,574.5 14.7,576.2 19.7,575.0 24.7,572.4 29.7,572.4 34.6,573.2 39.6,571.5 44.6,571.2 49.6,569.0 54.6,576.2 59.5,579.5 64.5,577.2 69.5,574.7 74.5,578.7 79.5,583.2 84.4,591.5 89.4,594.2 94.4,597.0 99.4,596.3 104.4,585.6 109.3,591.2 114.3,594.8 119.3,587.6 124.3,586.0 129.3,584.6 134.2,582.7 139.2,585.7 144.2,596.8 149.2,592.9 154.2,590.3 159.1,588.5 164.1,587.4 169.1,583.9 174.1,587.0 179.1,594.5 184.0,598.0 189.0,594.3 194.0,591.0 199.0,588.5 204.0,592.0 208.9,583.3 213.9,582.8 218.9,570.1 223.9,567.6 228.9,563.3 233.8,579.0 238.8,577.5 243.8,576.3 248.8,579.2 253.7,573.8 258.7,582.1 263.7,577.4 268.7,591.7 273.7,594.5 278.6,600.4 283.6,597.8 288.6,596.5 293.6,597.5 298.6,606.7 303.5,602.9 308.5,599.3 313.5,594.0 318.5,593.7 323.5,582.2 328.4,580.2 333.4,585.9 338.4,579.1 343.4,575.5 348.4,574.6 353.3,577.4 358.3,575.8 363.3,574.0 368.3,570.1 373.3,562.9 378.2,574.0 383.2,583.7 388.2,581.5 393.2,588.1 398.2,583.6 403.1,584.4 408.1,583.3 413.1,581.6 418.1,578.5 423.1,580.4 428.0,589.7 433.0,589.2 438.0,591.6 443.0,584.9 448.0,580.0 452.9,588.6 457.9,587.2 462.9,597.2 467.9,604.5 472.9,609.1 477.8,611.4 482.8,607.3 487.8,616.0 492.8,614.4 497.8,609.6 502.7,613.5 507.7,615.1 512.7,615.6 517.7,616.2 522.6,610.0 527.6,616.1 532.6,609.4 537.6,611.6 542.6,608.3 547.5,603.7 552.5,598.1 557.5,600.5 562.5,595.2 567.5,597.4 572.4,606.2 577.4,605.0 582.4,608.0 587.4,609.3 592.4,599.1 597.3,604.6 602.3,611.4 607.3,602.9 612.3,598.6 617.3,596.5 622.2,593.6 627.2,596.8 632.2,596.6 637.2,597.2 642.2,595.2 647.1,596.5 652.1,591.4 657.1,589.0 662.1,586.2 667.1,590.1 672.0,590.9 677.0,591.8 682.0,587.9 687.0,584.2 692.0,578.7 696.9,577.7 701.9,574.9 706.9,582.2 711.9,589.5 716.9,597.4 721.8,599.4 726.8,598.7 731.8,598.6 736.8,597.4 741.8,599.8 746.7,600.1 751.7,602.0 756.7,602.6 761.7,590.7 766.6,589.9 771.6,590.6 776.6,594.4 781.6,589.1 786.6,583.6 791.5,577.0 796.5,591.1 801.5,587.6 806.5,594.0 811.5,588.5 816.4,582.4 821.4,587.6 826.4,592.1 831.4,583.5 836.4,578.3 841.3,578.5 846.3,582.5 851.3,588.9 856.3,593.0 861.3,598.0 866.2,609.6 871.2,603.2 876.2,596.0 881.2,593.4 886.2,598.3 891.1,594.9 896.1,591.4 901.1,591.7 906.1,587.7 911.1,580.9 916.0,583.6 921.0,578.4 926.0,580.2 931.0,579.0 936.0,580.2 940.9,579.0 945.9,583.2 950.9,589.1 955.9,588.3 960.9,585.3 965.8,590.7 970.8,588.9 975.8,586.9 980.8,586.1 985.8,592.9 990.7,589.0 995.7,593.0 1000.7,588.0 1005.7,590.0 1010.6,585.4 1015.6,596.0 1020.6,594.5 1025.6,596.6 1030.6,595.8 1035.5,600.2 1040.5,603.9 1045.5,604.3 1050.5,604.7 1055.5,609.8 1060.4,614.0 1065.4,605.4 1070.4,604.9 1075.4,594.6 1080.4,577.3 1085.3,589.6 1090.3,587.3 1095.3,589.5 1100.3,592.7 1105.3,593.5 1110.2,591.3 1115.2,597.0 1120.2,599.8 1125.2,597.1 1130.2,598.5 1135.1,600.0 1140.1,597.6 1145.1,597.9 1150.1,588.4 1155.1,590.0 1160.0,594.8 1165.0,593.5 1170.0,598.0 1175.0,602.7 1180.0,604.1 1184.9,578.5 1189.9,576.1 1194.9,576.3 1199.9,581.0 1204.9,575.1 1209.8,574.2 1214.8,573.4 1219.8,570.3 1224.8,563.2 1229.8,561.6 1234.7,566.8 1239.7,583.6 1244.7,582.7 1249.7,581.0 1254.6,590.4 1259.6,589.3 1264.6,586.8 1269.6,575.5 1274.6,571.5 1279.5,570.5 1284.5,571.2 1289.5,571.3 1294.5,579.8 1299.5,566.7 1304.4,563.3 1309.4,562.6 1314.4,566.7 1319.4,574.8 1324.4,572.2 1329.3,573.1 1334.3,567.5 1339.3,561.1 1344.3,561.6 1349.3,567.1 1354.2,569.0 1359.2,565.5 1364.2,563.8 1369.2,567.4 1374.2,565.6 1379.1,566.2 1384.1,571.3 1389.1,570.6 1394.1,573.5 1399.1,572.6 1404.0,577.5 1409.0,568.9 1414.0,559.7 1419.0,566.8 1424.0,568.6 1428.9,568.2 1433.9,567.8 1438.9,562.9" fill="none" stroke="#2e5be0" stroke-width="1.2" stroke-linejoin="round" />
<line x1="0" y1="653.4" x2="1546.5" y2="653.4" stroke="#b2b2b2" stroke-width="1" stroke-dasharray="4 5.2"/>
<g fill="#43a047"><rect x="-2.21" y="651.25" width="4" height="2.15"/><rect x="7.75" y="652.50" width="4" height="0.90"/><rect x="22.69" y="652.50" width="4" height="0.90"/><rect x="37.63" y="652.50" width="4" height="0.90"/><rect x="47.59" y="652.50" width="4" height="0.90"/><rect x="206.93" y="652.50" width="4" height="0.90"/><rect x="211.91" y="652.50" width="4" height="0.90"/><rect x="216.89" y="650.25" width="4" height="3.15"/><rect x="221.87" y="648.52" width="4" height="4.88"/><rect x="226.85" y="646.82" width="4" height="6.58"/><rect x="251.75" y="649.93" width="4" height="3.47"/><rect x="326.44" y="651.93" width="4" height="1.47"/><rect x="331.42" y="651.36" width="4" height="2.04"/><rect x="336.40" y="649.78" width="4" height="3.62"/><rect x="341.38" y="648.18" width="4" height="5.22"/><rect x="346.36" y="647.24" width="4" height="6.16"/><rect x="366.28" y="647.01" width="4" height="6.39"/><rect x="371.26" y="645.30" width="4" height="8.10"/><rect x="550.53" y="652.00" width="4" height="1.40"/><rect x="555.51" y="650.67" width="4" height="2.73"/><rect x="560.48" y="648.79" width="4" height="4.61"/><rect x="565.46" y="648.04" width="4" height="5.36"/><rect x="590.36" y="651.76" width="4" height="1.64"/><rect x="610.28" y="652.50" width="4" height="0.90"/><rect x="615.26" y="651.44" width="4" height="1.96"/><rect x="620.24" y="649.77" width="4" height="3.63"/><rect x="625.22" y="649.46" width="4" height="3.94"/><rect x="630.20" y="649.20" width="4" height="4.20"/><rect x="635.18" y="649.18" width="4" height="4.22"/><rect x="640.16" y="648.84" width="4" height="4.56"/><rect x="650.12" y="648.23" width="4" height="5.17"/><rect x="655.10" y="647.48" width="4" height="5.92"/><rect x="660.08" y="646.68" width="4" height="6.72"/><rect x="684.97" y="647.89" width="4" height="5.51"/><rect x="689.95" y="646.98" width="4" height="6.42"/><rect x="694.93" y="646.51" width="4" height="6.89"/><rect x="699.91" y="646.03" width="4" height="7.37"/><rect x="769.63" y="652.50" width="4" height="0.90"/><rect x="774.61" y="652.50" width="4" height="0.90"/><rect x="779.59" y="652.50" width="4" height="0.90"/><rect x="784.57" y="651.57" width="4" height="1.83"/><rect x="789.55" y="650.21" width="4" height="3.19"/><rect x="814.44" y="651.44" width="4" height="1.96"/><rect x="829.38" y="651.86" width="4" height="1.54"/><rect x="834.36" y="650.62" width="4" height="2.78"/><rect x="839.34" y="650.01" width="4" height="3.39"/><rect x="904.08" y="652.50" width="4" height="0.90"/><rect x="909.06" y="651.21" width="4" height="2.19"/><rect x="914.04" y="650.38" width="4" height="3.02"/><rect x="919.02" y="649.03" width="4" height="4.37"/><rect x="924.00" y="648.61" width="4" height="4.79"/><rect x="928.98" y="648.38" width="4" height="5.02"/><rect x="1078.36" y="652.13" width="4" height="1.27"/><rect x="1083.34" y="651.63" width="4" height="1.77"/><rect x="1088.32" y="651.00" width="4" height="2.40"/><rect x="1093.30" y="650.99" width="4" height="2.41"/><rect x="1148.08" y="652.50" width="4" height="0.90"/><rect x="1153.06" y="652.49" width="4" height="0.91"/><rect x="1163.02" y="652.50" width="4" height="0.90"/><rect x="1182.93" y="651.95" width="4" height="1.45"/><rect x="1187.91" y="649.96" width="4" height="3.44"/><rect x="1192.89" y="648.87" width="4" height="4.53"/><rect x="1202.85" y="648.21" width="4" height="5.19"/><rect x="1207.83" y="647.90" width="4" height="5.50"/><rect x="1212.81" y="647.87" width="4" height="5.53"/><rect x="1217.79" y="647.65" width="4" height="5.75"/><rect x="1222.77" y="646.48" width="4" height="6.92"/><rect x="1227.75" y="645.81" width="4" height="7.59"/><rect x="1272.57" y="652.30" width="4" height="1.10"/><rect x="1277.55" y="651.17" width="4" height="2.23"/><rect x="1282.53" y="650.74" width="4" height="2.66"/><rect x="1287.51" y="650.72" width="4" height="2.68"/><rect x="1297.47" y="650.14" width="4" height="3.26"/><rect x="1302.45" y="648.47" width="4" height="4.93"/><rect x="1307.42" y="647.59" width="4" height="5.81"/><rect x="1332.32" y="651.00" width="4" height="2.40"/><rect x="1337.30" y="649.33" width="4" height="4.07"/><rect x="1342.28" y="648.74" width="4" height="4.66"/><rect x="1416.98" y="652.50" width="4" height="0.90"/><rect x="1436.89" y="652.50" width="4" height="0.90"/></g>
<g fill="#b7dfb9"><rect x="2.77" y="652.50" width="4" height="0.90"/><rect x="12.73" y="652.50" width="4" height="0.90"/><rect x="17.71" y="652.50" width="4" height="0.90"/><rect x="27.67" y="652.50" width="4" height="0.90"/><rect x="32.65" y="652.50" width="4" height="0.90"/><rect x="231.83" y="647.82" width="4" height="5.58"/><rect x="236.81" y="648.51" width="4" height="4.89"/><rect x="241.79" y="649.05" width="4" height="4.35"/><rect x="246.77" y="650.00" width="4" height="3.40"/><rect x="256.73" y="651.13" width="4" height="2.27"/><rect x="261.71" y="651.28" width="4" height="2.12"/><rect x="351.34" y="647.34" width="4" height="6.06"/><rect x="356.32" y="647.42" width="4" height="5.98"/><rect x="361.30" y="647.44" width="4" height="5.96"/><rect x="376.24" y="646.17" width="4" height="7.23"/><rect x="381.22" y="648.74" width="4" height="4.66"/><rect x="386.20" y="650.23" width="4" height="3.17"/><rect x="391.18" y="652.50" width="4" height="0.90"/><rect x="396.16" y="652.50" width="4" height="0.90"/><rect x="570.44" y="649.84" width="4" height="3.56"/><rect x="575.42" y="650.70" width="4" height="2.70"/><rect x="580.40" y="651.96" width="4" height="1.44"/><rect x="585.38" y="652.50" width="4" height="0.90"/><rect x="595.34" y="652.30" width="4" height="1.10"/><rect x="645.14" y="648.93" width="4" height="4.47"/><rect x="665.06" y="647.01" width="4" height="6.39"/><rect x="670.04" y="647.55" width="4" height="5.85"/><rect x="675.02" y="648.22" width="4" height="5.18"/><rect x="680.00" y="648.25" width="4" height="5.15"/><rect x="704.89" y="646.94" width="4" height="6.46"/><rect x="709.87" y="648.82" width="4" height="4.58"/><rect x="714.85" y="651.54" width="4" height="1.86"/><rect x="794.53" y="651.04" width="4" height="2.36"/><rect x="799.51" y="651.22" width="4" height="2.18"/><rect x="804.49" y="652.25" width="4" height="1.15"/><rect x="809.46" y="652.25" width="4" height="1.15"/><rect x="819.42" y="651.68" width="4" height="1.72"/><rect x="824.40" y="652.50" width="4" height="0.90"/><rect x="844.32" y="650.30" width="4" height="3.10"/><rect x="849.30" y="651.51" width="4" height="1.89"/><rect x="854.28" y="652.50" width="4" height="0.90"/><rect x="933.95" y="648.62" width="4" height="4.78"/><rect x="938.93" y="648.84" width="4" height="4.56"/><rect x="943.91" y="649.72" width="4" height="3.68"/><rect x="948.89" y="651.23" width="4" height="2.17"/><rect x="953.87" y="652.21" width="4" height="1.19"/><rect x="958.85" y="652.50" width="4" height="0.90"/><rect x="1098.28" y="651.50" width="4" height="1.90"/><rect x="1103.26" y="651.98" width="4" height="1.42"/><rect x="1108.24" y="652.04" width="4" height="1.36"/><rect x="1113.22" y="652.50" width="4" height="0.90"/><rect x="1158.04" y="652.50" width="4" height="0.90"/><rect x="1168.00" y="652.50" width="4" height="0.90"/><rect x="1197.87" y="648.89" width="4" height="4.51"/><rect x="1232.73" y="646.29" width="4" height="7.11"/><rect x="1237.71" y="648.88" width="4" height="4.52"/><rect x="1242.69" y="650.69" width="4" height="2.71"/><rect x="1247.67" y="651.80" width="4" height="1.60"/><rect x="1292.49" y="651.84" width="4" height="1.56"/><rect x="1312.40" y="647.94" width="4" height="5.46"/><rect x="1317.38" y="649.56" width="4" height="3.84"/><rect x="1322.36" y="650.39" width="4" height="3.01"/><rect x="1327.34" y="651.35" width="4" height="2.05"/><rect x="1347.26" y="649.44" width="4" height="3.96"/><rect x="1352.24" y="650.51" width="4" height="2.89"/><rect x="1357.22" y="650.72" width="4" height="2.68"/><rect x="1362.20" y="650.76" width="4" height="2.64"/><rect x="1367.18" y="651.54" width="4" height="1.86"/><rect x="1372.16" y="651.94" width="4" height="1.46"/><rect x="1377.14" y="652.50" width="4" height="0.90"/><rect x="1421.96" y="652.50" width="4" height="0.90"/><rect x="1426.94" y="652.50" width="4" height="0.90"/><rect x="1431.91" y="652.50" width="4" height="0.90"/></g>
<g fill="#f23645"><rect x="42.61" y="653.40" width="4" height="0.90"/><rect x="52.57" y="653.40" width="4" height="0.90"/><rect x="57.55" y="653.40" width="4" height="1.99"/><rect x="62.52" y="653.40" width="4" height="2.36"/><rect x="72.48" y="653.40" width="4" height="2.69"/><rect x="77.46" y="653.40" width="4" height="3.60"/><rect x="82.44" y="653.40" width="4" height="5.43"/><rect x="87.42" y="653.40" width="4" height="6.76"/><rect x="92.40" y="653.40" width="4" height="7.83"/><rect x="112.32" y="653.40" width="4" height="5.56"/><rect x="142.20" y="653.40" width="4" height="2.23"/><rect x="147.18" y="653.40" width="4" height="2.44"/><rect x="177.06" y="653.40" width="4" height="0.92"/><rect x="182.04" y="653.40" width="4" height="1.80"/><rect x="187.01" y="653.40" width="4" height="1.89"/><rect x="266.69" y="653.40" width="4" height="0.90"/><rect x="271.67" y="653.40" width="4" height="2.35"/><rect x="276.65" y="653.40" width="4" height="4.77"/><rect x="281.63" y="653.40" width="4" height="5.74"/><rect x="286.61" y="653.40" width="4" height="5.92"/><rect x="291.59" y="653.40" width="4" height="5.93"/><rect x="296.57" y="653.40" width="4" height="7.55"/><rect x="301.55" y="653.40" width="4" height="7.69"/><rect x="401.14" y="653.40" width="4" height="0.90"/><rect x="406.12" y="653.40" width="4" height="0.95"/><rect x="426.04" y="653.40" width="4" height="1.77"/><rect x="431.02" y="653.40" width="4" height="2.61"/><rect x="435.99" y="653.40" width="4" height="3.48"/><rect x="450.93" y="653.40" width="4" height="2.06"/><rect x="455.91" y="653.40" width="4" height="2.09"/><rect x="460.89" y="653.40" width="4" height="3.87"/><rect x="465.87" y="653.40" width="4" height="6.55"/><rect x="470.85" y="653.40" width="4" height="9.23"/><rect x="475.83" y="653.40" width="4" height="11.17"/><rect x="480.81" y="653.40" width="4" height="11.20"/><rect x="485.79" y="653.40" width="4" height="13.59"/><rect x="490.77" y="653.40" width="4" height="14.07"/><rect x="600.32" y="653.40" width="4" height="1.29"/><rect x="719.83" y="653.40" width="4" height="0.90"/><rect x="724.81" y="653.40" width="4" height="1.54"/><rect x="729.79" y="653.40" width="4" height="2.21"/><rect x="734.77" y="653.40" width="4" height="2.36"/><rect x="739.75" y="653.40" width="4" height="2.67"/><rect x="744.73" y="653.40" width="4" height="2.73"/><rect x="749.71" y="653.40" width="4" height="2.86"/><rect x="859.26" y="653.40" width="4" height="1.38"/><rect x="864.24" y="653.40" width="4" height="4.92"/><rect x="869.22" y="653.40" width="4" height="6.02"/><rect x="884.16" y="653.40" width="4" height="4.12"/><rect x="963.83" y="653.40" width="4" height="0.90"/><rect x="968.81" y="653.40" width="4" height="0.90"/><rect x="973.79" y="653.40" width="4" height="0.90"/><rect x="983.75" y="653.40" width="4" height="1.10"/><rect x="993.71" y="653.40" width="4" height="1.50"/><rect x="1013.63" y="653.40" width="4" height="1.42"/><rect x="1018.61" y="653.40" width="4" height="1.75"/><rect x="1023.59" y="653.40" width="4" height="2.13"/><rect x="1028.57" y="653.40" width="4" height="2.17"/><rect x="1033.55" y="653.40" width="4" height="2.62"/><rect x="1038.53" y="653.40" width="4" height="3.25"/><rect x="1043.51" y="653.40" width="4" height="3.52"/><rect x="1053.47" y="653.40" width="4" height="3.99"/><rect x="1058.44" y="653.40" width="4" height="4.73"/><rect x="1118.20" y="653.40" width="4" height="0.90"/><rect x="1123.18" y="653.40" width="4" height="0.90"/><rect x="1128.16" y="653.40" width="4" height="0.90"/><rect x="1133.14" y="653.40" width="4" height="1.13"/><rect x="1172.98" y="653.40" width="4" height="0.90"/><rect x="1177.96" y="653.40" width="4" height="1.12"/><rect x="1252.65" y="653.40" width="4" height="0.90"/><rect x="1257.63" y="653.40" width="4" height="1.72"/><rect x="1262.61" y="653.40" width="4" height="2.16"/><rect x="1382.12" y="653.40" width="4" height="0.90"/><rect x="1387.10" y="653.40" width="4" height="1.15"/><rect x="1392.08" y="653.40" width="4" height="2.11"/><rect x="1397.06" y="653.40" width="4" height="2.70"/><rect x="1402.04" y="653.40" width="4" height="3.59"/></g>
<g fill="#f9b3b9"><rect x="67.50" y="653.40" width="4" height="2.13"/><rect x="97.38" y="653.40" width="4" height="7.29"/><rect x="102.36" y="653.40" width="4" height="5.90"/><rect x="107.34" y="653.40" width="4" height="5.51"/><rect x="117.30" y="653.40" width="4" height="4.45"/><rect x="122.28" y="653.40" width="4" height="3.34"/><rect x="127.26" y="653.40" width="4" height="2.33"/><rect x="132.24" y="653.40" width="4" height="1.37"/><rect x="137.22" y="653.40" width="4" height="1.04"/><rect x="152.16" y="653.40" width="4" height="2.15"/><rect x="157.14" y="653.40" width="4" height="1.65"/><rect x="162.12" y="653.40" width="4" height="1.14"/><rect x="167.10" y="653.40" width="4" height="0.90"/><rect x="172.08" y="653.40" width="4" height="0.90"/><rect x="191.99" y="653.40" width="4" height="1.50"/><rect x="196.97" y="653.40" width="4" height="0.91"/><rect x="201.95" y="653.40" width="4" height="0.90"/><rect x="306.53" y="653.40" width="4" height="6.86"/><rect x="311.50" y="653.40" width="4" height="5.22"/><rect x="316.48" y="653.40" width="4" height="3.83"/><rect x="321.46" y="653.40" width="4" height="0.90"/><rect x="411.10" y="653.40" width="4" height="0.90"/><rect x="416.08" y="653.40" width="4" height="0.90"/><rect x="421.06" y="653.40" width="4" height="0.90"/><rect x="440.97" y="653.40" width="4" height="2.89"/><rect x="445.95" y="653.40" width="4" height="1.58"/><rect x="495.75" y="653.40" width="4" height="12.80"/><rect x="500.73" y="653.40" width="4" height="12.58"/><rect x="505.71" y="653.40" width="4" height="12.21"/><rect x="510.69" y="653.40" width="4" height="11.33"/><rect x="515.67" y="653.40" width="4" height="10.20"/><rect x="520.65" y="653.40" width="4" height="7.90"/><rect x="525.63" y="653.40" width="4" height="7.85"/><rect x="530.61" y="653.40" width="4" height="6.14"/><rect x="535.59" y="653.40" width="4" height="5.19"/><rect x="540.57" y="653.40" width="4" height="3.54"/><rect x="545.55" y="653.40" width="4" height="1.29"/><rect x="605.30" y="653.40" width="4" height="0.93"/><rect x="754.69" y="653.40" width="4" height="2.83"/><rect x="759.67" y="653.40" width="4" height="1.47"/><rect x="764.65" y="653.40" width="4" height="0.90"/><rect x="874.20" y="653.40" width="4" height="5.29"/><rect x="879.18" y="653.40" width="4" height="4.12"/><rect x="889.14" y="653.40" width="4" height="3.34"/><rect x="894.12" y="653.40" width="4" height="2.08"/><rect x="899.10" y="653.40" width="4" height="1.16"/><rect x="978.77" y="653.40" width="4" height="0.90"/><rect x="988.73" y="653.40" width="4" height="1.09"/><rect x="998.69" y="653.40" width="4" height="1.17"/><rect x="1003.67" y="653.40" width="4" height="1.12"/><rect x="1008.65" y="653.40" width="4" height="0.90"/><rect x="1048.49" y="653.40" width="4" height="3.52"/><rect x="1063.42" y="653.40" width="4" height="4.23"/><rect x="1068.40" y="653.40" width="4" height="3.59"/><rect x="1073.38" y="653.40" width="4" height="2.04"/><rect x="1138.12" y="653.40" width="4" height="0.96"/><rect x="1143.10" y="653.40" width="4" height="0.90"/><rect x="1267.59" y="653.40" width="4" height="0.90"/><rect x="1407.02" y="653.40" width="4" height="2.79"/><rect x="1412.00" y="653.40" width="4" height="0.90"/></g>
<polyline points="-0.2,635.0 4.8,636.0 9.7,635.7 14.7,636.0 19.7,636.0 24.7,635.7 29.7,635.8 34.6,636.0 39.6,636.0 44.6,636.2 49.6,635.8 54.6,636.9 59.5,638.3 64.5,639.1 69.5,639.3 74.5,640.4 79.5,641.9 84.4,644.5 89.4,647.0 94.4,649.5 99.4,650.6 104.4,650.7 109.3,651.5 114.3,652.7 119.3,652.7 124.3,652.5 129.3,652.1 134.2,651.6 139.2,651.6 144.2,653.0 149.2,653.7 154.2,653.9 159.1,653.8 164.1,653.6 169.1,653.1 174.1,652.9 179.1,653.8 184.0,654.9 189.0,655.3 194.0,655.3 199.0,655.0 204.0,655.2 208.9,654.3 213.9,653.5 218.9,650.9 223.9,648.5 228.9,645.7 233.8,645.4 238.8,644.9 243.8,644.5 248.8,644.5 253.7,643.8 258.7,644.3 263.7,644.0 268.7,646.0 273.7,648.2 278.6,651.3 283.6,653.3 288.6,654.6 293.6,655.9 298.6,658.8 303.5,660.5 308.5,661.3 313.5,661.0 318.5,660.6 323.5,658.3 328.4,656.1 333.4,655.2 338.4,653.1 343.4,650.7 348.4,648.6 353.3,647.4 358.3,646.3 363.3,645.0 368.3,643.3 373.3,640.2 378.2,639.5 383.2,640.6 388.2,641.2 393.2,643.0 398.2,643.6 403.1,644.3 408.1,644.8 413.1,644.9 418.1,644.5 423.1,644.5 428.0,646.1 433.0,647.4 438.0,648.8 443.0,648.9 448.0,648.2 452.9,649.0 457.9,649.5 462.9,651.8 467.9,655.4 472.9,659.5 477.8,663.5 482.8,665.8 487.8,670.6 492.8,674.0 497.8,675.6 502.7,678.0 507.7,680.3 512.7,681.9 517.7,683.1 522.6,682.8 527.6,684.4 532.6,684.2 537.6,684.5 542.6,683.9 547.5,682.3 552.5,679.8 557.5,678.1 562.5,675.6 567.5,673.8 572.4,674.6 577.4,674.7 582.4,675.5 587.4,676.2 592.4,674.9 597.3,675.1 602.3,677.4 607.3,677.2 612.3,676.0 617.3,674.3 622.2,672.2 627.2,671.1 632.2,670.0 637.2,669.1 642.2,667.9 647.1,667.0 652.1,665.4 657.1,663.5 662.1,661.5 667.1,660.4 672.0,659.6 677.0,659.1 682.0,658.1 687.0,656.6 692.0,654.5 696.9,652.7 701.9,650.7 706.9,650.2 711.9,650.8 716.9,652.7 721.8,654.5 726.8,655.9 731.8,656.9 736.8,657.5 741.8,658.3 746.7,658.9 751.7,659.6 756.7,660.2 761.7,659.4 766.6,658.6 771.6,658.0 776.6,657.9 781.6,657.2 786.6,656.0 791.5,654.2 796.5,654.4 801.5,654.1 806.5,654.7 811.5,654.5 816.4,653.4 821.4,653.3 826.4,653.8 831.4,652.9 836.4,651.3 841.3,650.1 846.3,649.7 851.3,650.3 856.3,651.4 861.3,653.2 866.2,657.2 871.2,659.4 876.2,659.9 881.2,659.7 886.2,660.6 891.1,660.6 896.1,660.0 901.1,659.5 906.1,658.4 911.1,656.2 916.0,654.9 921.0,652.9 926.0,651.5 931.0,650.3 936.0,649.5 940.9,648.7 945.9,648.7 950.9,649.5 955.9,650.1 960.9,650.2 965.8,650.9 970.8,651.4 975.8,651.5 980.8,651.5 985.8,652.3 990.7,652.5 995.7,653.2 1000.7,653.2 1005.7,653.3 1010.6,653.0 1015.6,654.0 1020.6,654.6 1025.6,655.4 1030.6,655.9 1035.5,656.8 1040.5,658.0 1045.5,659.0 1050.5,659.7 1055.5,660.9 1060.4,662.5 1065.4,663.0 1070.4,663.2 1075.4,662.3 1080.4,659.3 1085.3,658.5 1090.3,657.5 1095.3,657.0 1100.3,657.0 1105.3,657.1 1110.2,656.9 1115.2,657.5 1120.2,658.3 1125.2,658.6 1130.2,659.0 1135.1,659.5 1140.1,659.6 1145.1,659.6 1150.1,658.6 1155.1,657.9 1160.0,657.9 1165.0,657.7 1170.0,658.0 1175.0,658.8 1180.0,659.5 1184.9,657.1 1189.9,654.7 1194.9,652.9 1199.9,651.9 1204.9,650.3 1209.8,648.9 1214.8,647.7 1219.8,646.3 1224.8,643.9 1229.8,641.8 1234.7,640.7 1239.7,641.9 1244.7,642.8 1249.7,643.4 1254.6,645.3 1259.6,646.7 1264.6,647.5 1269.6,646.3 1274.6,644.7 1279.5,643.3 1284.5,642.4 1289.5,641.8 1294.5,642.4 1299.5,640.3 1304.4,637.9 1309.4,635.9 1314.4,635.1 1319.4,635.6 1324.4,635.7 1329.3,636.1 1334.3,635.3 1339.3,633.0 1344.3,631.6 1349.3,631.3 1354.2,631.6 1359.2,631.2 1364.2,630.7 1369.2,631.0 1374.2,631.0 1379.1,631.3 1384.1,632.4 1389.1,633.3 1394.1,634.6 1399.1,635.6 1404.0,637.1 1409.0,637.0 1414.0,634.9 1419.0,634.2 1424.0,634.1 1428.9,634.2 1433.9,634.4 1438.9,633.6" fill="none" stroke="#3b74f5" stroke-width="1.1" stroke-linejoin="round" />
<line x1="0" y1="715.8" x2="1546.5" y2="715.8" stroke="#8e9199" stroke-width="1.6" stroke-dasharray="4 5.2"/>
<g fill="#43a047"><rect x="-2.21" y="711.00" width="4" height="4.80"/><rect x="2.77" y="709.80" width="4" height="6.00"/><rect x="7.75" y="708.80" width="4" height="7.00"/><rect x="12.73" y="709.90" width="4" height="5.90"/><rect x="17.71" y="710.30" width="4" height="5.50"/><rect x="22.69" y="710.60" width="4" height="5.20"/><rect x="27.67" y="711.00" width="4" height="4.80"/><rect x="32.65" y="711.80" width="4" height="4.00"/><rect x="37.63" y="712.10" width="4" height="3.70"/><rect x="42.61" y="712.50" width="4" height="3.30"/><rect x="47.59" y="712.20" width="4" height="3.60"/><rect x="52.57" y="714.60" width="4" height="1.20"/><rect x="57.55" y="714.80" width="4" height="1.00"/><rect x="62.52" y="714.80" width="4" height="1.00"/><rect x="67.50" y="714.80" width="4" height="1.00"/><rect x="72.48" y="715.00" width="4" height="0.80"/><rect x="102.36" y="714.11" width="4" height="1.69"/><rect x="117.30" y="708.65" width="4" height="7.15"/><rect x="122.28" y="709.23" width="4" height="6.57"/><rect x="127.26" y="710.03" width="4" height="5.77"/><rect x="132.24" y="710.61" width="4" height="5.19"/><rect x="137.22" y="711.81" width="4" height="3.99"/><rect x="142.20" y="714.43" width="4" height="1.37"/><rect x="147.18" y="713.91" width="4" height="1.89"/><rect x="152.16" y="713.56" width="4" height="2.24"/><rect x="157.14" y="713.46" width="4" height="2.34"/><rect x="162.12" y="713.54" width="4" height="2.26"/><rect x="167.10" y="712.99" width="4" height="2.81"/><rect x="172.08" y="714.14" width="4" height="1.66"/><rect x="191.99" y="715.00" width="4" height="0.80"/><rect x="196.97" y="714.91" width="4" height="0.89"/><rect x="206.93" y="713.99" width="4" height="1.81"/><rect x="211.91" y="714.15" width="4" height="1.65"/><rect x="216.89" y="708.96" width="4" height="6.84"/><rect x="221.87" y="708.71" width="4" height="7.09"/><rect x="226.85" y="707.71" width="4" height="8.09"/><rect x="231.83" y="712.11" width="4" height="3.69"/><rect x="236.81" y="712.24" width="4" height="3.56"/><rect x="241.79" y="712.43" width="4" height="3.37"/><rect x="246.77" y="713.65" width="4" height="2.15"/><rect x="251.75" y="711.44" width="4" height="4.36"/><rect x="256.73" y="714.45" width="4" height="1.35"/><rect x="261.71" y="712.56" width="4" height="3.24"/><rect x="321.46" y="713.35" width="4" height="2.45"/><rect x="326.44" y="712.57" width="4" height="3.23"/><rect x="331.42" y="714.27" width="4" height="1.53"/><rect x="336.40" y="711.93" width="4" height="3.87"/><rect x="341.38" y="709.51" width="4" height="6.29"/><rect x="346.36" y="709.96" width="4" height="5.84"/><rect x="351.34" y="712.02" width="4" height="3.78"/><rect x="356.32" y="711.93" width="4" height="3.87"/><rect x="361.30" y="711.75" width="4" height="4.05"/><rect x="366.28" y="709.49" width="4" height="6.31"/><rect x="371.26" y="703.29" width="4" height="12.51"/><rect x="376.24" y="709.29" width="4" height="6.51"/><rect x="381.22" y="713.43" width="4" height="2.37"/><rect x="386.20" y="712.93" width="4" height="2.87"/><rect x="396.16" y="714.34" width="4" height="1.46"/><rect x="401.14" y="714.84" width="4" height="0.96"/><rect x="406.12" y="714.61" width="4" height="1.19"/><rect x="411.10" y="713.97" width="4" height="1.83"/><rect x="416.08" y="711.20" width="4" height="4.60"/><rect x="421.06" y="712.50" width="4" height="3.30"/><rect x="440.97" y="714.32" width="4" height="1.48"/><rect x="445.95" y="712.62" width="4" height="3.18"/><rect x="450.93" y="715.00" width="4" height="0.80"/><rect x="455.91" y="715.00" width="4" height="0.80"/><rect x="560.48" y="715.00" width="4" height="0.80"/><rect x="615.26" y="715.00" width="4" height="0.80"/><rect x="620.24" y="714.18" width="4" height="1.62"/><rect x="640.16" y="715.00" width="4" height="0.80"/><rect x="650.12" y="714.41" width="4" height="1.39"/><rect x="655.10" y="712.99" width="4" height="2.81"/><rect x="660.08" y="712.06" width="4" height="3.74"/><rect x="665.06" y="714.14" width="4" height="1.66"/><rect x="670.04" y="714.66" width="4" height="1.14"/><rect x="675.02" y="715.00" width="4" height="0.80"/><rect x="680.00" y="714.21" width="4" height="1.59"/><rect x="684.97" y="713.33" width="4" height="2.47"/><rect x="689.95" y="711.74" width="4" height="4.06"/><rect x="694.93" y="711.93" width="4" height="3.87"/><rect x="699.91" y="711.53" width="4" height="4.27"/><rect x="704.89" y="713.83" width="4" height="1.97"/><rect x="759.67" y="713.52" width="4" height="2.28"/><rect x="764.65" y="713.65" width="4" height="2.15"/><rect x="769.63" y="714.06" width="4" height="1.74"/><rect x="774.61" y="715.00" width="4" height="0.80"/><rect x="779.59" y="714.23" width="4" height="1.57"/><rect x="784.57" y="713.06" width="4" height="2.74"/><rect x="789.55" y="711.19" width="4" height="4.61"/><rect x="799.51" y="715.00" width="4" height="0.80"/><rect x="809.46" y="715.00" width="4" height="0.80"/><rect x="814.44" y="712.90" width="4" height="2.90"/><rect x="819.42" y="714.67" width="4" height="1.13"/><rect x="829.38" y="713.64" width="4" height="2.16"/><rect x="834.36" y="711.98" width="4" height="3.82"/><rect x="839.34" y="712.56" width="4" height="3.24"/><rect x="844.32" y="714.21" width="4" height="1.59"/><rect x="909.06" y="715.00" width="4" height="0.80"/><rect x="919.02" y="714.16" width="4" height="1.64"/><rect x="924.00" y="714.78" width="4" height="1.02"/><rect x="928.98" y="714.56" width="4" height="1.24"/><rect x="933.95" y="715.00" width="4" height="0.80"/><rect x="938.93" y="714.79" width="4" height="1.01"/><rect x="1008.65" y="715.00" width="4" height="0.80"/><rect x="1073.38" y="713.46" width="4" height="2.34"/><rect x="1078.36" y="698.65" width="4" height="17.15"/><rect x="1083.34" y="709.58" width="4" height="6.22"/><rect x="1088.32" y="709.28" width="4" height="6.52"/><rect x="1093.30" y="711.41" width="4" height="4.39"/><rect x="1098.28" y="713.22" width="4" height="2.58"/><rect x="1103.26" y="713.83" width="4" height="1.97"/><rect x="1108.24" y="713.45" width="4" height="2.35"/><rect x="1148.08" y="713.22" width="4" height="2.58"/><rect x="1153.06" y="714.07" width="4" height="1.73"/><rect x="1163.02" y="715.00" width="4" height="0.80"/><rect x="1182.93" y="696.29" width="4" height="19.51"/><rect x="1187.91" y="697.41" width="4" height="18.39"/><rect x="1192.89" y="700.11" width="4" height="15.69"/><rect x="1197.87" y="703.96" width="4" height="11.84"/><rect x="1202.85" y="703.48" width="4" height="12.32"/><rect x="1207.83" y="704.92" width="4" height="10.88"/><rect x="1212.81" y="706.25" width="4" height="9.55"/><rect x="1217.79" y="706.58" width="4" height="9.22"/><rect x="1222.77" y="703.96" width="4" height="11.84"/><rect x="1227.75" y="704.77" width="4" height="11.03"/><rect x="1232.73" y="707.65" width="4" height="8.15"/><rect x="1242.69" y="715.00" width="4" height="0.80"/><rect x="1247.67" y="714.89" width="4" height="0.91"/><rect x="1267.59" y="706.87" width="4" height="8.93"/><rect x="1272.57" y="705.86" width="4" height="9.94"/><rect x="1277.55" y="706.84" width="4" height="8.96"/><rect x="1282.53" y="708.20" width="4" height="7.60"/><rect x="1287.51" y="709.32" width="4" height="6.48"/><rect x="1292.49" y="712.79" width="4" height="3.01"/><rect x="1297.47" y="699.83" width="4" height="15.97"/><rect x="1302.45" y="698.46" width="4" height="17.34"/><rect x="1307.42" y="700.32" width="4" height="15.48"/><rect x="1312.40" y="703.87" width="4" height="11.93"/><rect x="1317.38" y="708.07" width="4" height="7.73"/><rect x="1322.36" y="707.85" width="4" height="7.95"/><rect x="1327.34" y="709.19" width="4" height="6.61"/><rect x="1332.32" y="705.55" width="4" height="10.25"/><rect x="1337.30" y="699.62" width="4" height="16.18"/><rect x="1342.28" y="702.13" width="4" height="13.67"/><rect x="1347.26" y="705.93" width="4" height="9.87"/><rect x="1352.24" y="708.08" width="4" height="7.72"/><rect x="1357.22" y="702.70" width="4" height="13.10"/><rect x="1362.20" y="702.40" width="4" height="13.40"/><rect x="1367.18" y="705.57" width="4" height="10.23"/><rect x="1372.16" y="706.19" width="4" height="9.61"/><rect x="1377.14" y="707.67" width="4" height="8.13"/><rect x="1382.12" y="709.80" width="4" height="6.00"/><rect x="1387.10" y="710.46" width="4" height="5.34"/><rect x="1392.08" y="711.66" width="4" height="4.14"/><rect x="1397.06" y="712.02" width="4" height="3.78"/><rect x="1402.04" y="713.77" width="4" height="2.03"/><rect x="1407.02" y="709.63" width="4" height="6.17"/><rect x="1412.00" y="702.81" width="4" height="12.99"/><rect x="1416.98" y="706.50" width="4" height="9.30"/><rect x="1421.96" y="708.21" width="4" height="7.59"/><rect x="1426.94" y="709.08" width="4" height="6.72"/><rect x="1431.91" y="709.83" width="4" height="5.97"/><rect x="1436.89" y="707.93" width="4" height="7.87"/></g><g fill="#f23645"><rect x="77.46" y="715.80" width="4" height="1.06"/><rect x="82.44" y="715.80" width="4" height="3.62"/><rect x="87.42" y="715.80" width="4" height="3.85"/><rect x="92.40" y="715.80" width="4" height="4.24"/><rect x="97.38" y="715.80" width="4" height="0.80"/><rect x="107.34" y="715.80" width="4" height="0.80"/><rect x="112.32" y="715.80" width="4" height="1.61"/><rect x="177.06" y="715.80" width="4" height="0.80"/><rect x="182.04" y="715.80" width="4" height="0.90"/><rect x="187.01" y="715.80" width="4" height="0.80"/><rect x="201.95" y="715.80" width="4" height="0.80"/><rect x="266.69" y="715.80" width="4" height="7.57"/><rect x="271.67" y="715.80" width="4" height="7.97"/><rect x="276.65" y="715.80" width="4" height="10.62"/><rect x="281.63" y="715.80" width="4" height="8.43"/><rect x="286.61" y="715.80" width="4" height="6.89"/><rect x="291.59" y="715.80" width="4" height="6.23"/><rect x="296.57" y="715.80" width="4" height="10.22"/><rect x="301.55" y="715.80" width="4" height="7.59"/><rect x="306.53" y="715.80" width="4" height="5.49"/><rect x="311.50" y="715.80" width="4" height="3.35"/><rect x="316.48" y="715.80" width="4" height="2.77"/><rect x="391.18" y="715.80" width="4" height="0.80"/><rect x="426.04" y="715.80" width="4" height="0.80"/><rect x="431.02" y="715.80" width="4" height="0.80"/><rect x="435.99" y="715.80" width="4" height="0.80"/><rect x="460.89" y="715.80" width="4" height="4.11"/><rect x="465.87" y="715.80" width="4" height="8.52"/><rect x="470.85" y="715.80" width="4" height="11.50"/><rect x="475.83" y="715.80" width="4" height="12.23"/><rect x="480.81" y="715.80" width="4" height="7.65"/><rect x="485.79" y="715.80" width="4" height="20.75"/><rect x="490.77" y="715.80" width="4" height="17.14"/><rect x="495.75" y="715.80" width="4" height="12.56"/><rect x="500.73" y="715.80" width="4" height="15.05"/><rect x="505.71" y="715.80" width="4" height="14.56"/><rect x="510.69" y="715.80" width="4" height="12.99"/><rect x="515.67" y="715.80" width="4" height="11.59"/><rect x="520.65" y="715.80" width="4" height="7.72"/><rect x="525.63" y="715.80" width="4" height="16.35"/><rect x="530.61" y="715.80" width="4" height="9.95"/><rect x="535.59" y="715.80" width="4" height="10.90"/><rect x="540.57" y="715.80" width="4" height="7.54"/><rect x="545.55" y="715.80" width="4" height="3.66"/><rect x="550.53" y="715.80" width="4" height="0.80"/><rect x="555.51" y="715.80" width="4" height="2.20"/><rect x="565.46" y="715.80" width="4" height="0.80"/><rect x="570.44" y="715.80" width="4" height="8.55"/><rect x="575.42" y="715.80" width="4" height="6.74"/><rect x="580.40" y="715.80" width="4" height="9.58"/><rect x="585.38" y="715.80" width="4" height="9.30"/><rect x="590.36" y="715.80" width="4" height="0.80"/><rect x="595.34" y="715.80" width="4" height="4.88"/><rect x="600.32" y="715.80" width="4" height="13.62"/><rect x="605.30" y="715.80" width="4" height="3.40"/><rect x="610.28" y="715.80" width="4" height="0.85"/><rect x="625.22" y="715.80" width="4" height="0.80"/><rect x="630.20" y="715.80" width="4" height="0.80"/><rect x="635.18" y="715.80" width="4" height="0.80"/><rect x="645.14" y="715.80" width="4" height="0.80"/><rect x="709.87" y="715.80" width="4" height="1.23"/><rect x="714.85" y="715.80" width="4" height="4.16"/><rect x="719.83" y="715.80" width="4" height="4.70"/><rect x="724.81" y="715.80" width="4" height="3.20"/><rect x="729.79" y="715.80" width="4" height="2.72"/><rect x="734.77" y="715.80" width="4" height="1.94"/><rect x="739.75" y="715.80" width="4" height="2.31"/><rect x="744.73" y="715.80" width="4" height="2.04"/><rect x="749.71" y="715.80" width="4" height="2.91"/><rect x="754.69" y="715.80" width="4" height="2.74"/><rect x="794.53" y="715.80" width="4" height="0.80"/><rect x="804.49" y="715.80" width="4" height="1.84"/><rect x="824.40" y="715.80" width="4" height="0.80"/><rect x="849.30" y="715.80" width="4" height="0.80"/><rect x="854.28" y="715.80" width="4" height="1.37"/><rect x="859.26" y="715.80" width="4" height="3.45"/><rect x="864.24" y="715.80" width="4" height="24.07"/><rect x="869.22" y="715.80" width="4" height="17.41"/><rect x="874.20" y="715.80" width="4" height="11.76"/><rect x="879.18" y="715.80" width="4" height="9.07"/><rect x="884.16" y="715.80" width="4" height="9.95"/><rect x="889.14" y="715.80" width="4" height="7.25"/><rect x="894.12" y="715.80" width="4" height="5.08"/><rect x="899.10" y="715.80" width="4" height="4.43"/><rect x="904.08" y="715.80" width="4" height="2.51"/><rect x="914.04" y="715.80" width="4" height="0.80"/><rect x="943.91" y="715.80" width="4" height="0.80"/><rect x="948.89" y="715.80" width="4" height="1.86"/><rect x="953.87" y="715.80" width="4" height="1.34"/><rect x="958.85" y="715.80" width="4" height="0.80"/><rect x="963.83" y="715.80" width="4" height="1.44"/><rect x="968.81" y="715.80" width="4" height="0.81"/><rect x="973.79" y="715.80" width="4" height="0.80"/><rect x="978.77" y="715.80" width="4" height="0.80"/><rect x="983.75" y="715.80" width="4" height="1.51"/><rect x="988.73" y="715.80" width="4" height="0.80"/><rect x="993.71" y="715.80" width="4" height="1.36"/><rect x="998.69" y="715.80" width="4" height="0.80"/><rect x="1003.67" y="715.80" width="4" height="0.80"/><rect x="1013.63" y="715.80" width="4" height="2.67"/><rect x="1018.61" y="715.80" width="4" height="1.98"/><rect x="1023.59" y="715.80" width="4" height="2.18"/><rect x="1028.57" y="715.80" width="4" height="1.63"/><rect x="1033.55" y="715.80" width="4" height="3.43"/><rect x="1038.53" y="715.80" width="4" height="5.70"/><rect x="1043.51" y="715.80" width="4" height="5.03"/><rect x="1048.49" y="715.80" width="4" height="4.46"/><rect x="1053.47" y="715.80" width="4" height="6.44"/><rect x="1058.44" y="715.80" width="4" height="8.45"/><rect x="1063.42" y="715.80" width="4" height="5.32"/><rect x="1068.40" y="715.80" width="4" height="4.41"/><rect x="1113.22" y="715.80" width="4" height="0.80"/><rect x="1118.20" y="715.80" width="4" height="1.40"/><rect x="1123.18" y="715.80" width="4" height="0.80"/><rect x="1128.16" y="715.80" width="4" height="0.80"/><rect x="1133.14" y="715.80" width="4" height="1.16"/><rect x="1138.12" y="715.80" width="4" height="0.80"/><rect x="1143.10" y="715.80" width="4" height="0.80"/><rect x="1158.04" y="715.80" width="4" height="0.80"/><rect x="1168.00" y="715.80" width="4" height="1.97"/><rect x="1172.98" y="715.80" width="4" height="3.76"/><rect x="1177.96" y="715.80" width="4" height="3.85"/><rect x="1237.71" y="715.80" width="4" height="0.80"/><rect x="1252.65" y="715.80" width="4" height="2.72"/><rect x="1257.63" y="715.80" width="4" height="1.99"/><rect x="1262.61" y="715.80" width="4" height="0.80"/></g>
<rect x="7.2" y="745" width="5.0" height="27.2" fill="#7fa583"/>
<rect x="101.9" y="745" width="5.0" height="27.2" fill="#e3f1e3"/>
<rect x="196.5" y="745" width="5.0" height="27.2" fill="#e3f1e3"/>
<rect x="206.4" y="745" width="5.0" height="27.2" fill="#e3f1e3"/>
<rect x="211.4" y="745" width="5.0" height="27.2" fill="#b9dfba"/>
<rect x="216.4" y="745" width="5.0" height="27.2" fill="#7fa583"/>
<rect x="226.4" y="745" width="5.0" height="27.2" fill="#e3f1e3"/>
<rect x="251.2" y="745" width="5.0" height="27.2" fill="#b9dfba"/>
<rect x="266.2" y="745" width="5.0" height="27.2" fill="#7fa583"/>
<rect x="321.0" y="745" width="5.0" height="27.2" fill="#7fa583"/>
<rect x="335.9" y="745" width="10.0" height="27.2" fill="#e3f1e3"/>
<rect x="360.8" y="745" width="5.0" height="27.2" fill="#e3f1e3"/>
<rect x="365.8" y="745" width="10.0" height="27.2" fill="#7fa583"/>
<rect x="395.7" y="745" width="5.0" height="27.2" fill="#e3f1e3"/>
<rect x="415.6" y="745" width="5.0" height="27.2" fill="#e3f1e3"/>
<rect x="440.5" y="745" width="10.0" height="27.2" fill="#b9dfba"/>
<rect x="470.4" y="745" width="5.0" height="27.2" fill="#7fa583"/>
<rect x="480.3" y="745" width="5.0" height="27.2" fill="#7fa583"/>
<rect x="525.1" y="745" width="5.0" height="27.2" fill="#b9dfba"/>
<rect x="530.1" y="745" width="5.0" height="27.2" fill="#e3f1e3"/>
<rect x="589.9" y="745" width="5.0" height="27.2" fill="#7fa583"/>
<rect x="689.5" y="745" width="5.0" height="27.2" fill="#b9dfba"/>
<rect x="759.2" y="745" width="5.0" height="27.2" fill="#7fa583"/>
<rect x="779.1" y="745" width="5.0" height="27.2" fill="#b9dfba"/>
<rect x="789.0" y="745" width="5.0" height="27.2" fill="#7fa583"/>
<rect x="813.9" y="745" width="5.0" height="27.2" fill="#b9dfba"/>
<rect x="828.9" y="745" width="5.0" height="27.2" fill="#b9dfba"/>
<rect x="873.7" y="745" width="5.0" height="27.2" fill="#b9dfba"/>
<rect x="908.6" y="745" width="5.0" height="27.2" fill="#b9dfba"/>
<rect x="978.3" y="745" width="5.0" height="27.2" fill="#e3f1e3"/>
<rect x="993.2" y="745" width="5.0" height="27.2" fill="#b9dfba"/>
<rect x="1008.1" y="745" width="5.0" height="27.2" fill="#e3f1e3"/>
<rect x="1072.9" y="745" width="5.0" height="27.2" fill="#b9dfba"/>
<rect x="1077.9" y="745" width="5.0" height="27.2" fill="#7fa583"/>
<rect x="1087.8" y="745" width="5.0" height="27.2" fill="#b9dfba"/>
<rect x="1147.6" y="745" width="5.0" height="27.2" fill="#b9dfba"/>
<rect x="1182.4" y="745" width="5.0" height="27.2" fill="#7fa583"/>
<rect x="1187.4" y="745" width="5.0" height="27.2" fill="#b9dfba"/>
<rect x="1197.4" y="745" width="10.0" height="27.2" fill="#e3f1e3"/>
<rect x="1222.3" y="745" width="5.0" height="27.2" fill="#b9dfba"/>
<rect x="1242.2" y="745" width="5.0" height="27.2" fill="#e3f1e3"/>
<rect x="1262.1" y="745" width="5.0" height="27.2" fill="#b9dfba"/>
<rect x="1272.1" y="745" width="5.0" height="27.2" fill="#b9dfba"/>
<rect x="1297.0" y="745" width="5.0" height="27.2" fill="#7fa583"/>
<rect x="1301.9" y="745" width="5.0" height="27.2" fill="#b9dfba"/>
<rect x="1321.9" y="745" width="5.0" height="27.2" fill="#e3f1e3"/>
<rect x="1331.8" y="745" width="5.0" height="27.2" fill="#b9dfba"/>
<rect x="1336.8" y="745" width="5.0" height="27.2" fill="#7fa583"/>
<rect x="1356.7" y="745" width="5.0" height="27.2" fill="#b9dfba"/>
<rect x="1401.5" y="745" width="5.0" height="27.2" fill="#b9dfba"/>
<rect x="1406.5" y="745" width="10.0" height="27.2" fill="#7fa583"/>
<rect x="1436.4" y="745" width="5.0" height="27.2" fill="#e3f1e3"/>
<polyline points="0.0,750.8 6.5,752.1 33.0,755.1 40.0,757.1 50.0,758.9 65.0,760.7 80.0,761.7 100.0,760.8 125.0,763.2 150.0,764.5 175.0,765.2 200.0,765.0 225.0,763.2 246.2,760.8 257.5,760.2 267.5,759.0 275.0,757.5 285.0,758.2 295.0,759.5 307.5,760.0 321.2,759.0 330.0,758.2 345.0,759.0 360.0,758.2 367.5,756.5 377.5,755.0 385.0,754.5 390.0,756.5 397.5,756.5 405.0,758.2 415.0,759.0 422.5,759.0 427.5,758.2 437.5,759.5 442.5,759.5 450.0,758.2 457.5,759.0 462.5,757.0 472.5,754.5 480.0,750.8 487.5,747.0 497.5,750.2 505.0,751.5 515.0,754.5 525.0,755.8 535.0,756.0 545.0,757.8 555.0,759.0 565.0,760.2 572.5,759.5 587.5,762.0 592.5,760.8 602.5,759.5 607.5,759.5 615.0,761.0 630.0,763.2 640.0,765.0 652.5,766.0 670.0,766.2 685.0,767.0 692.5,766.5 705.0,767.0 717.5,766.0 727.5,766.5 745.0,767.8 757.5,768.8 762.5,767.0 775.0,767.8 787.5,767.8 795.0,765.8 805.0,765.0 817.5,764.5 830.0,764.0 840.0,764.5 845.0,763.2 860.0,762.5 866.2,759.5 876.2,759.0 892.5,760.2 905.0,761.5 912.5,761.2 930.0,763.8 940.0,763.2 950.0,762.8 960.0,764.0 975.0,765.0 987.5,764.0 992.5,764.5 1000.0,764.0 1010.0,764.5 1015.0,763.2 1030.0,764.0 1045.0,765.0 1060.0,764.5 1073.8,764.0 1080.0,759.0 1090.0,757.5 1097.5,758.2 1110.0,760.2 1130.0,762.0 1145.0,764.0 1157.5,763.8 1167.5,765.0 1178.8,765.8 1185.0,760.8 1195.0,760.0 1207.5,759.5 1220.0,761.0 1227.5,760.2 1235.0,759.5 1240.0,757.0 1250.0,757.5 1260.0,758.2 1270.0,755.0 1275.0,755.0 1285.0,758.2 1293.8,759.0 1300.0,755.0 1305.0,754.5 1315.0,757.0 1325.0,756.2 1332.5,757.0 1340.0,754.5 1350.0,756.2 1355.0,757.5 1362.5,757.8 1372.5,760.0 1385.0,762.0 1395.0,764.0 1402.5,763.2 1413.8,759.5 1422.5,760.8 1432.5,761.0 1438.8,760.5" fill="none" stroke="#b71c1c" stroke-width="1.6" stroke-linejoin="round" />
<g stroke="#555" stroke-width="1">
<line x1="0" y1="497.5" x2="1600" y2="497.5"/>
<line x1="0" y1="550.5" x2="1600" y2="550.5"/>
<line x1="0" y1="623.5" x2="1600" y2="623.5"/>
<line x1="0" y1="690.3" x2="1600" y2="690.3"/>
<line x1="0" y1="744.6" x2="1600" y2="744.6"/>
<line x1="0" y1="772.5" x2="1600" y2="772.5"/>
<line x1="1546.2" y1="2" x2="1546.2" y2="793"/>
</g>
<g font-size="10" fill="#555">
<text x="1553.5" y="64.1">60,00</text>
<text x="1553.5" y="103.4">58,00</text>
<text x="1553.5" y="143.5">56,00</text>
<text x="1553.5" y="185.4">54,00</text>
<text x="1553.5" y="228.9">52,00</text>
<text x="1553.5" y="274.1">50,00</text>
<text x="1553.5" y="309.2">48,50</text>
<text x="1553.5" y="345.4">47,00</text>
<text x="1553.5" y="382.8">45,50</text>
<text x="1553.5" y="408.4">44,50</text>
<text x="1553.5" y="434.6">43,50</text>
<text x="1553.5" y="461.4">42,50</text>
<text x="1553.5" y="488.8">41,50</text>
<text x="1553.5" y="514.4" textLength="19.6" lengthAdjust="spacingAndGlyphs">40 M</text><text x="1553.5" y="590.6">50,00</text><text x="1553.5" y="620.6">25,00</text>
<text x="1553.5" y="687">−2,50</text><text x="1553.5" y="719">0</text><text x="1553.5" y="744" textLength="24" lengthAdjust="spacingAndGlyphs">−20 M</text>
</g>
<rect x="1546.2" y="113.4" width="35.8" height="13.8" rx="1.5" fill="#43a047"/>
<text x="1553.5" y="124.0" font-size="10.4" font-weight="bold" fill="#fff" textLength="24.2" lengthAdjust="spacingAndGlyphs">57,02</text>
<rect x="1546.2" y="516.2" width="44.8" height="13.8" rx="1.5" fill="#3179f5"/>
<text x="1553.5" y="526.8000000000001" font-size="10.4" font-weight="bold" fill="#fff" textLength="33.7" lengthAdjust="spacingAndGlyphs">14,69 M</text>
<rect x="1546.2" y="530.6" width="44.8" height="13.8" rx="1.5" fill="#43a047"/>
<text x="1553.5" y="541.2" font-size="10.4" font-weight="bold" fill="#fff" textLength="33.7" lengthAdjust="spacingAndGlyphs">13,35 M</text>
<rect x="1546.2" y="554.7" width="36.3" height="13.8" rx="1.5" fill="#1e43c8"/>
<text x="1553.5" y="565.3000000000001" font-size="10.4" font-weight="bold" fill="#fff" textLength="24.8" lengthAdjust="spacingAndGlyphs">72,23</text>
<rect x="1546.2" y="569.1" width="36.3" height="13.8" rx="1.5" fill="#e65100"/>
<text x="1553.5" y="579.7" font-size="10.4" font-weight="bold" fill="#fff" textLength="24.8" lengthAdjust="spacingAndGlyphs">67,35</text>
<rect x="1546.2" y="626.5" width="31" height="13.8" rx="1.5" fill="#2962ff"/>
<text x="1553.5" y="637.1" font-size="10.4" font-weight="bold" fill="#fff" textLength="18.5" lengthAdjust="spacingAndGlyphs">1,61</text>
<rect x="1546.2" y="645.7" width="41.1" height="13.8" rx="1.5" fill="#43a047"/>
<text x="1553.5" y="656.3000000000001" font-size="10.4" font-weight="bold" fill="#fff" textLength="29.5" lengthAdjust="spacingAndGlyphs">0,0553</text>
<rect x="1546.2" y="701.6" width="39.5" height="13.8" rx="1.5" fill="#43a047"/>
<text x="1553.5" y="712.2" font-size="10.4" font-weight="bold" fill="#fff" textLength="28" lengthAdjust="spacingAndGlyphs">5,99 M</text>
<rect x="1546.2" y="755.3" width="41.1" height="13.8" rx="1.5" fill="#b71c1c"/>
<text x="1553.5" y="765.9" font-size="10.4" font-weight="bold" fill="#fff" textLength="29.5" lengthAdjust="spacingAndGlyphs">0,9971</text>
<rect x="1549.6" y="6.3" width="47.9" height="20.4" rx="3.2" fill="#fff" stroke="#ebebeb" stroke-width="1.2"/>
<text x="1552.6" y="19.9" font-size="10.9" fill="#131722" textLength="17.4" lengthAdjust="spacingAndGlyphs">USD</text>
<path d="M1589 15.9 l2.25 2 l2.25 -2" fill="none" stroke="#131722" stroke-width="1.3"/>
<g font-size="10" fill="#5a5a5a">
<text x="42.5" y="787.2" textLength="13" lengthAdjust="spacingAndGlyphs">Dic</text>
<text x="142.5" y="787.2" textLength="22.5" lengthAdjust="spacingAndGlyphs" fill="#333" stroke="#333" stroke-width="0.35">2025</text>
<text x="245.5" y="787.2" textLength="15.6" lengthAdjust="spacingAndGlyphs">Feb</text>
<text x="339.5" y="787.2" textLength="16" lengthAdjust="spacingAndGlyphs">Mar</text>
<text x="445" y="787.2" textLength="15" lengthAdjust="spacingAndGlyphs">Abr</text>
<text x="546.3" y="787.2" textLength="22" lengthAdjust="spacingAndGlyphs">Mayo</text>
<text x="654.3" y="787.2" textLength="15" lengthAdjust="spacingAndGlyphs">Jun</text>
<text x="755" y="787.2" textLength="12.5" lengthAdjust="spacingAndGlyphs">Jul</text>
<text x="862.5" y="787.2" textLength="16.8" lengthAdjust="spacingAndGlyphs">Ago</text>
<text x="967.5" y="787.2" textLength="15.8" lengthAdjust="spacingAndGlyphs">Sep</text>
<text x="1072" y="787.2" textLength="15.5" lengthAdjust="spacingAndGlyphs">Oct</text>
<text x="1186.3" y="787.2" textLength="16.2" lengthAdjust="spacingAndGlyphs">Nov</text>
<text x="1282.5" y="787.2" textLength="13.3" lengthAdjust="spacingAndGlyphs">Dic</text>
<text x="1387.5" y="787.2" textLength="22.5" lengthAdjust="spacingAndGlyphs" fill="#333" stroke="#333" stroke-width="0.35">2026</text>
<text x="1490.5" y="787.2" textLength="15.3" lengthAdjust="spacingAndGlyphs">Feb</text>
</g>
<g transform="translate(1573.5 783.6)" fill="none" stroke="#222" stroke-width="1.2"><path d="M-3 -5.2 L3 -5.2 L6 0 L3 5.2 L-3 5.2 L-6 0 Z"/><circle r="2"/></g>
<g fill="#fff" fill-opacity="0.6">
<rect x="4" y="6" width="604" height="19"/>
<rect x="4" y="29" width="280" height="15"/>
<rect x="4" y="503" width="122" height="17"/>
<rect x="4" y="556" width="127" height="17"/>
<rect x="4" y="628" width="164" height="17"/>
<rect x="4" y="695" width="71" height="17"/>
<rect x="4" y="746.3" width="242" height="21.4"/>
</g>
<g fill="#777"><path d="M9.1 748.3H18.9V760.2H14.6V752.6H9.1Z"/><circle cx="23.5" cy="750.4" r="2.2"/><path d="M28 748.3H33.8L29.8 760.2H24.3Z"/></g>
<circle cx="14.2" cy="15.6" r="7.2" fill="#0a0a0a"/><circle cx="14.2" cy="15.6" r="4.0" fill="#f2f2f2"/><path d="M9.90 15.60L18.50 15.60M12.05 11.88L16.35 19.32M16.35 11.88L12.05 19.32" stroke="#0a0a0a" stroke-width="0.8" fill="none"/><circle cx="14.2" cy="15.6" r="1.15" fill="#0a0a0a"/>
<text x="25" y="20.6" font-size="12.6" fill="#444" textLength="243.5" lengthAdjust="spacingAndGlyphs">Bristol-Myers Squibb Company · 1D · NYSE</text>
<path d="M283.4 8.3H292.6V22.7H283.4A7.2 7.2 0 0 1 283.4 8.3Z" fill="#dde5fb"/><path d="M292.6 8.3H301.8A7.2 7.2 0 0 1 301.8 22.7H292.6Z" fill="#fbdde8"/>
<path d="M285.45 12.05A3.9 3.9 0 1 0 287.61 18.02A3.2 3.2 0 0 1 285.45 12.05Z" fill="#2962ff"/>
<text x="300.2" y="20.2" font-size="12.5" font-weight="bold" fill="#e91e63" text-anchor="middle">≈</text>
<text y="19.6" font-size="10.2"><tspan x="316.3" fill="#5a5a5a" textLength="6.4" lengthAdjust="spacingAndGlyphs">O</tspan><tspan x="324.2" fill="#3e8a45" textLength="25.9" lengthAdjust="spacingAndGlyphs">56,11</tspan><tspan x="356.6" fill="#5a5a5a" textLength="6.8" lengthAdjust="spacingAndGlyphs">H</tspan><tspan x="364.8" fill="#3e8a45" textLength="25.8" lengthAdjust="spacingAndGlyphs">57,04</tspan><tspan x="396.6" fill="#5a5a5a" textLength="5" lengthAdjust="spacingAndGlyphs">L</tspan><tspan x="402.7" fill="#3e8a45" textLength="25.7" lengthAdjust="spacingAndGlyphs">55,73</tspan><tspan x="433.7" fill="#5a5a5a" textLength="6.2" lengthAdjust="spacingAndGlyphs">C</tspan><tspan x="441" fill="#3e8a45" textLength="26.4" lengthAdjust="spacingAndGlyphs">57,02</tspan><tspan x="473.6" fill="#3e8a45" textLength="27.4" lengthAdjust="spacingAndGlyphs">+1,10</tspan><tspan x="503.6" fill="#3e8a45" textLength="40.4" lengthAdjust="spacingAndGlyphs">(+1,97%)</tspan><tspan x="549.4" fill="#5a5a5a" textLength="18" lengthAdjust="spacingAndGlyphs">Vol.</tspan><tspan x="569.6" fill="#3e8a45" textLength="35.2" lengthAdjust="spacingAndGlyphs">13,35 M</tspan></text>
<text y="39.6" font-size="10.4"><tspan x="7" fill="#5a5a5a" textLength="176" lengthAdjust="spacingAndGlyphs">4 SMAs + EMA 20 50 100 200 20 close</tspan><tspan x="190.4" fill="#4caf50" textLength="26.2" lengthAdjust="spacingAndGlyphs">54,35</tspan><tspan x="222.4" fill="#f23645" textLength="26" lengthAdjust="spacingAndGlyphs">50,65</tspan><tspan x="254" fill="#388e3c" textLength="26.6" lengthAdjust="spacingAndGlyphs">54,24</tspan></text>
<rect x="6.4" y="48.4" width="23.2" height="17" rx="2.5" fill="#fff" stroke="#d5d8df"/><path d="M14.6 59 l3.2 -3.2 l3.2 3.2" fill="none" stroke="#222" stroke-width="1.3"/>
<text y="515.6" font-size="10"><tspan x="7" fill="#5a5a5a" textLength="32" lengthAdjust="spacingAndGlyphs">Vol. 20</tspan><tspan x="47" fill="#4caf50" textLength="35" lengthAdjust="spacingAndGlyphs">13,35 M</tspan><tspan x="88" fill="#3179f5" textLength="35" lengthAdjust="spacingAndGlyphs">14,69 M</tspan></text>
<text y="568.8" font-size="10"><tspan x="7" fill="#5a5a5a" textLength="56" lengthAdjust="spacingAndGlyphs">RSI 14 close</tspan><tspan x="70" fill="#2e5be0" textLength="26" lengthAdjust="spacingAndGlyphs">72,23</tspan><tspan x="101.5" fill="#f07830" textLength="26.5" lengthAdjust="spacingAndGlyphs">67,35</tspan></text>
<text y="640.9" font-size="10"><tspan x="6.5" fill="#5a5a5a" textLength="92.6" lengthAdjust="spacingAndGlyphs">MACD close 12 26 9</tspan><tspan x="106.4" fill="#4caf50" textLength="31.7" lengthAdjust="spacingAndGlyphs">0,0553</tspan><tspan x="144.6" fill="#3b74f5" textLength="18.7" lengthAdjust="spacingAndGlyphs">1,61</tspan></text>
<text y="707.8" font-size="10"><tspan x="7" fill="#5a5a5a" textLength="28" lengthAdjust="spacingAndGlyphs">EFI 13</tspan><tspan x="41" fill="#4caf50" textLength="31" lengthAdjust="spacingAndGlyphs">5,99 M</tspan></text>
<text y="762.2" font-size="10"><tspan x="7" fill="#5a5a5a" textLength="171" lengthAdjust="spacingAndGlyphs">ATRrel + Shade 20 RMA 20 1 1,2 1,5</tspan><tspan x="184" fill="#c62828" textLength="34" lengthAdjust="spacingAndGlyphs">0,9971</tspan><tspan x="222" fill="#4caf50" textLength="21" lengthAdjust="spacingAndGlyphs">1,14</tspan></text>
</svg></body></html>
